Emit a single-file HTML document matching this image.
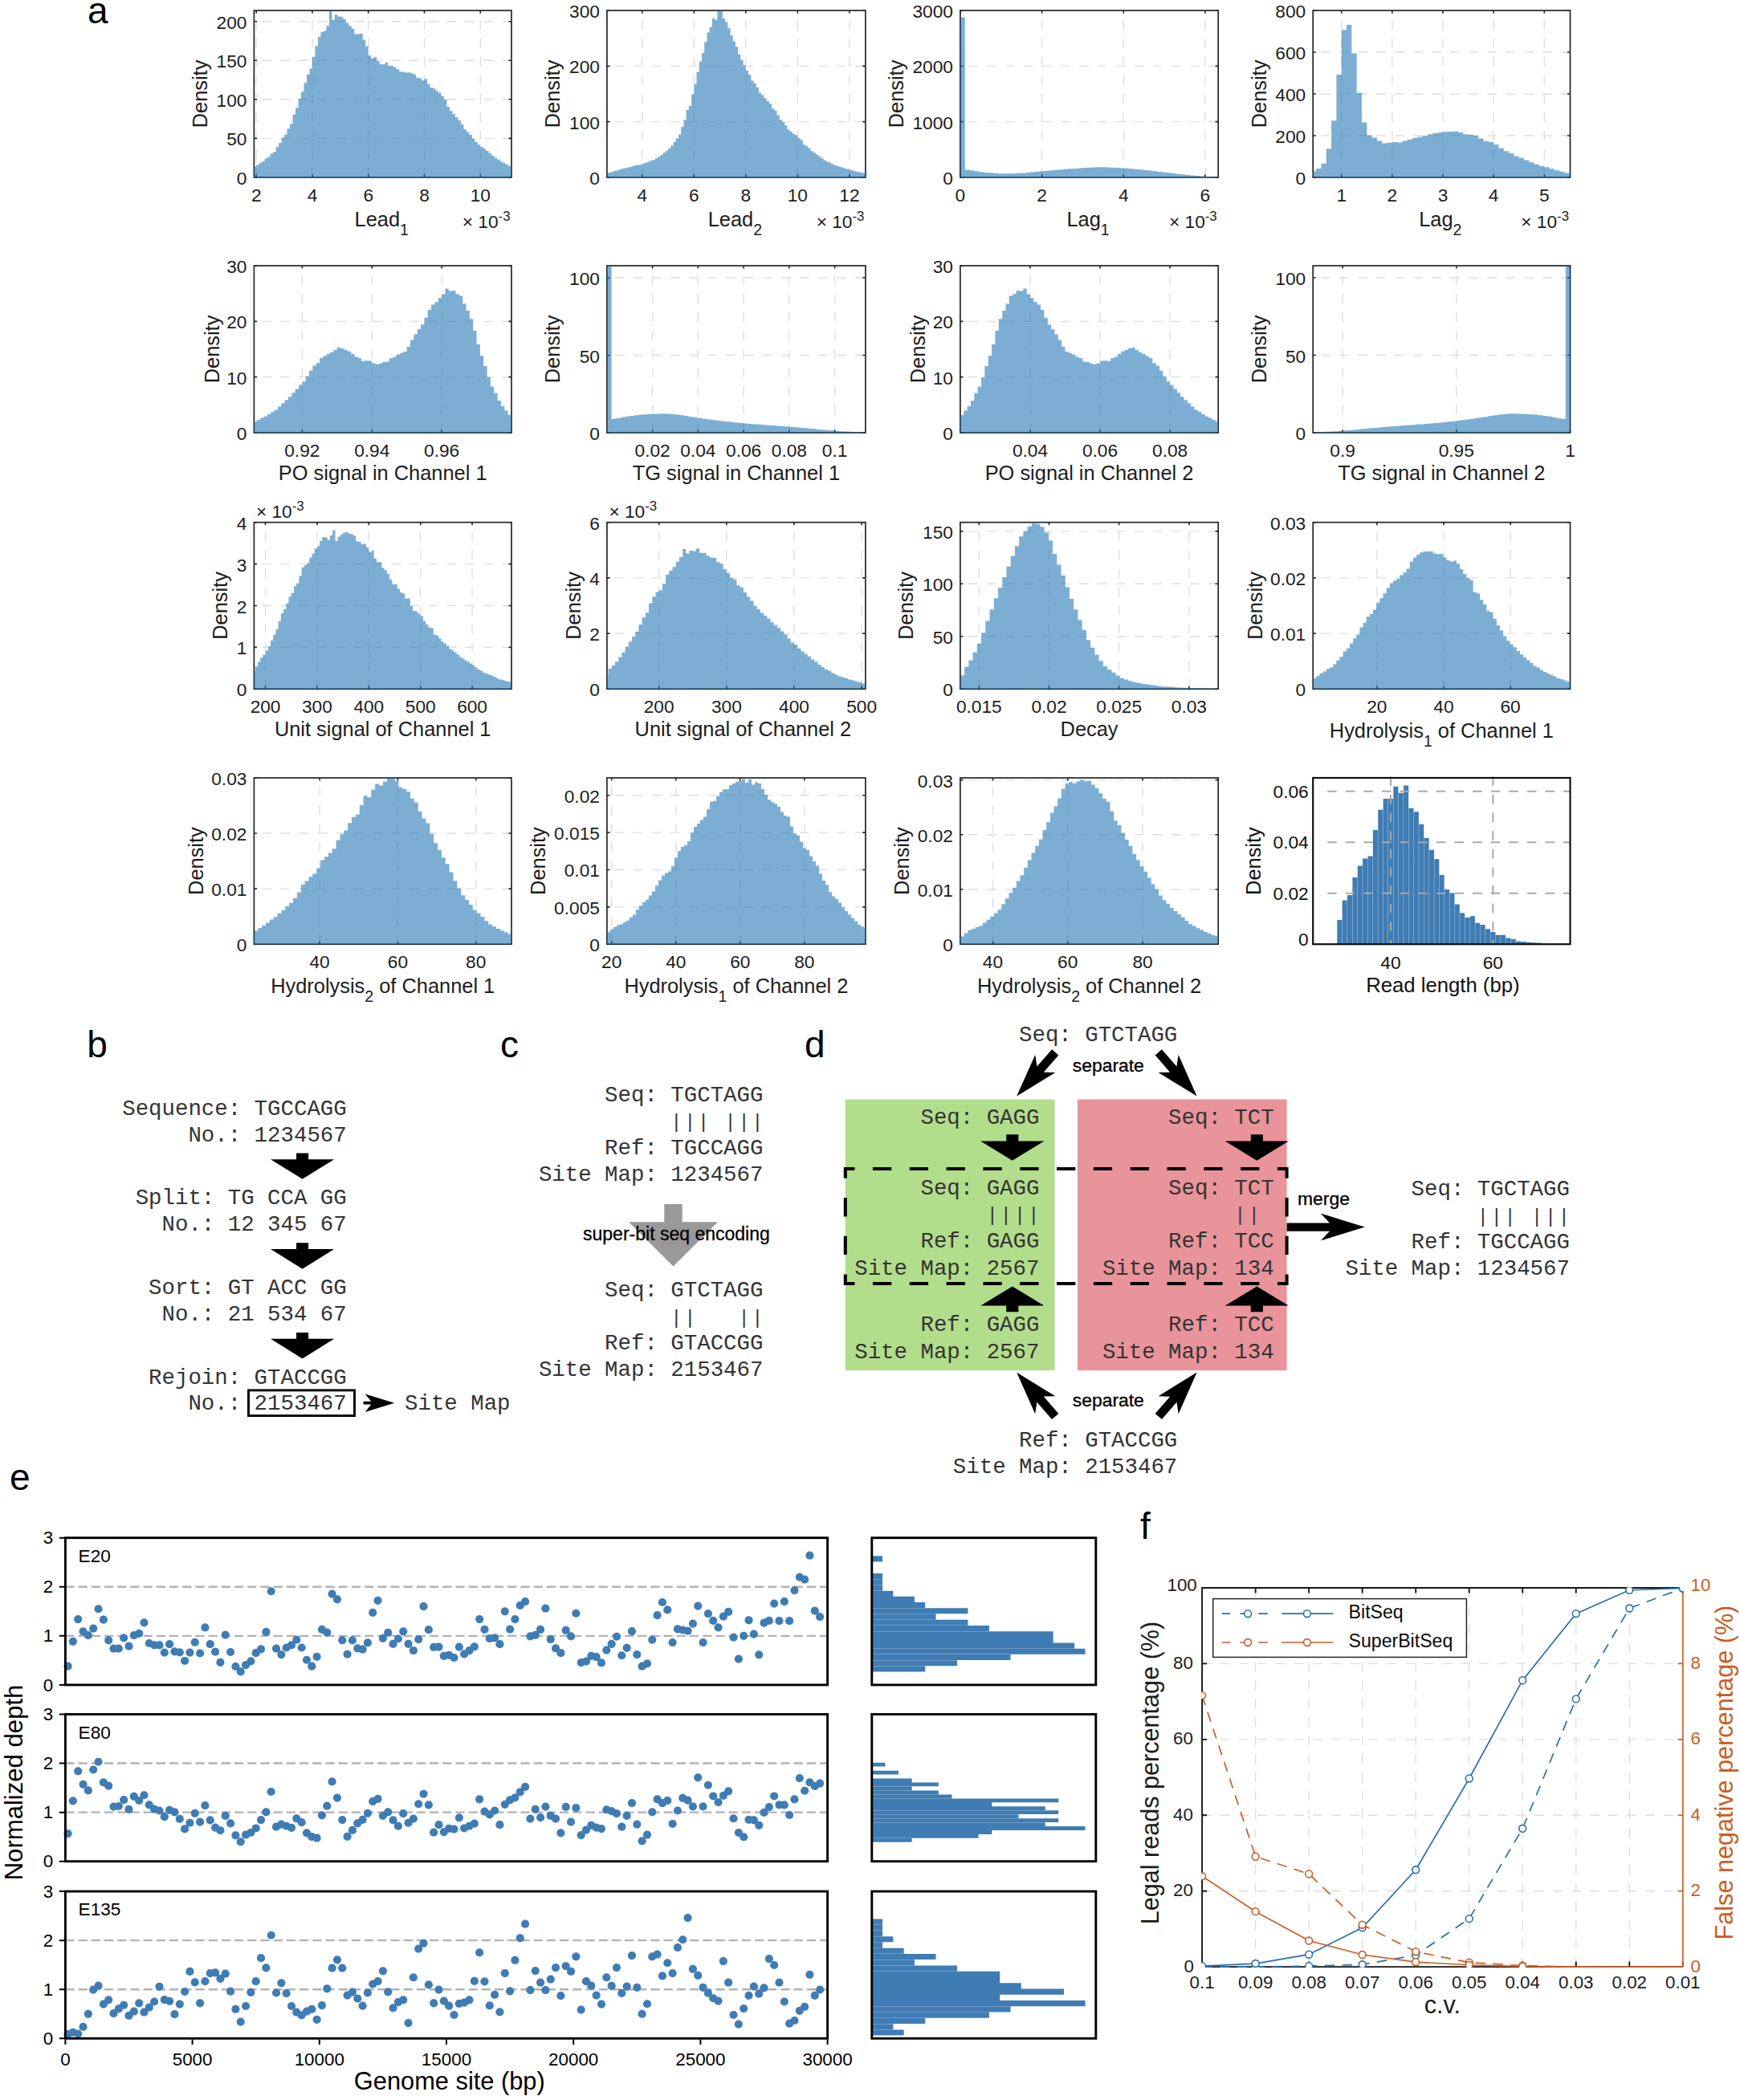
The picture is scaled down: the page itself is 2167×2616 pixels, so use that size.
<!DOCTYPE html>
<html lang="en"><head><meta charset="utf-8"><title>Figure</title>
<style>html,body{margin:0;padding:0;background:#fff}svg{display:block}</style></head>
<body>
<svg width="2167" height="2616" viewBox="0 0 2167 2616" font-family='"Liberation Sans", Arial, Helvetica, sans-serif'>
<rect width="2167" height="2616" fill="#fff"/>
<g>
<path d="M319.19 220.9V13.1M388.96 220.9V13.1M458.73 220.9V13.1M528.51 220.9V13.1M598.28 220.9V13.1M326.4 172.35H637M326.4 123.8H637M326.4 75.25H637M326.4 26.69H637" stroke="#dedede" stroke-width="1.4" stroke-dasharray="11.8 11.2" fill="none"/>
<path d="M319.19 220.9v-3.6M319.19 13.1v3.6M388.96 220.9v-3.6M388.96 13.1v3.6M458.73 220.9v-3.6M458.73 13.1v3.6M528.51 220.9v-3.6M528.51 13.1v3.6M598.28 220.9v-3.6M598.28 13.1v3.6M316.4 220.9h3.6M637 220.9h-3.6M316.4 172.35h3.6M637 172.35h-3.6M316.4 123.8h3.6M637 123.8h-3.6M316.4 75.25h3.6M637 75.25h-3.6M316.4 26.69h3.6M637 26.69h-3.6" stroke="#262626" stroke-width="1.6" fill="none"/>
<rect x="316.4" y="13.1" width="320.6" height="207.8" fill="none" stroke="#262626" stroke-width="1.7"/>
<path d="M316.4 220.9V207.21H319.19V205.38H322.68V203.11H326.17V200.99H329.66V197.58H333.15V195.55H336.63V191.24H340.12V189.15H343.61V183.21H347.1V177.98H350.59V171.5H354.08V167.68H357.57V160.35H361.05V154.21H364.54V142.47H368.03V134.3H371.52V123.03H375.01V114.25H378.5V103.35H381.99V92.76H385.47V85.27H388.96V70.86H392.45V57.35H395.94V46H399.43V40.06H402.92V38.46H406.41V32.31H409.89V13.1H413.38V24.58H416.87V18.13H420.36V20.48H423.85V20.97H427.34V23.82H430.83V28.52H434.31V32.59H437.8V35.95H441.29V42.56H444.78V42.35H448.27V42.08H451.76V49.65H455.25V57.85H458.73V68.92H462.22V72.8H465.71V71.04H469.2V76.37H472.69V79.97H476.18V80.2H479.67V77.83H483.15V81.98H486.64V81.99H490.13V83.82H493.62V86.34H497.11V89.21H500.6V89.55H504.09V90.62H507.57V90.36H511.06V90.94H514.55V92.76H518.04V96.67H521.53V97.46H525.02V100.26H528.51V98.22H531.99V104.51H535.48V109.05H538.97V110.27H542.46V113.28H545.95V115.47H549.44V119.73H552.93V123.78H556.41V133.02H559.9V138.24H563.39V142.02H566.88V145.92H570.37V149.86H573.86V154.88H577.35V161.15H580.83V164.4H584.32V168.08H587.81V172.82H591.3V176.91H594.79V180.35H598.28V182.93H601.77V185.35H605.25V188.11H608.74V191.12H612.23V194.06H615.72V196.75H619.21V198.8H622.7V201.22H626.19V202.99H629.67V204.94H633.16V207.08H636.65V208.61H637V220.9Z" fill="#156eb2" fill-opacity="0.56"/>
<text x="319.19" y="250.9" font-size="22.7" text-anchor="middle" fill="#1c1c1c">2</text>
<text x="388.96" y="250.9" font-size="22.7" text-anchor="middle" fill="#1c1c1c">4</text>
<text x="458.73" y="250.9" font-size="22.7" text-anchor="middle" fill="#1c1c1c">6</text>
<text x="528.51" y="250.9" font-size="22.7" text-anchor="middle" fill="#1c1c1c">8</text>
<text x="598.28" y="250.9" font-size="22.7" text-anchor="middle" fill="#1c1c1c">10</text>
<text x="307.4" y="229.9" font-size="22.7" text-anchor="end" fill="#1c1c1c">0</text>
<text x="307.4" y="181.35" font-size="22.7" text-anchor="end" fill="#1c1c1c">50</text>
<text x="307.4" y="132.8" font-size="22.7" text-anchor="end" fill="#1c1c1c">100</text>
<text x="307.4" y="84.25" font-size="22.7" text-anchor="end" fill="#1c1c1c">150</text>
<text x="307.4" y="35.69" font-size="22.7" text-anchor="end" fill="#1c1c1c">200</text>
<text transform="translate(258.3 117) rotate(-90)" font-size="25.4" text-anchor="middle" fill="#1c1c1c">Density</text>
<text x="475.2" y="281.8" font-size="25.4" text-anchor="middle" fill="#1c1c1c">Lead<tspan dy="11.5" font-size="19.5">1</tspan></text>
<text x="635.5" y="284.4" font-size="22.7" text-anchor="end" fill="#1c1c1c">× 10<tspan dy="-9.5" font-size="16.8">-3</tspan></text>
</g>
<g>
<path d="M799.78 220.9V13.1M864.31 220.9V13.1M928.84 220.9V13.1M993.37 220.9V13.1M1057.9 220.9V13.1M765.9 151.63H1077.9M765.9 82.37H1077.9" stroke="#dedede" stroke-width="1.4" stroke-dasharray="11.8 11.2" fill="none"/>
<path d="M799.78 220.9v-3.6M799.78 13.1v3.6M864.31 220.9v-3.6M864.31 13.1v3.6M928.84 220.9v-3.6M928.84 13.1v3.6M993.37 220.9v-3.6M993.37 13.1v3.6M1057.9 220.9v-3.6M1057.9 13.1v3.6M755.9 220.9h3.6M1077.9 220.9h-3.6M755.9 151.63h3.6M1077.9 151.63h-3.6M755.9 82.37h3.6M1077.9 82.37h-3.6M755.9 13.1h3.6M1077.9 13.1h-3.6" stroke="#262626" stroke-width="1.6" fill="none"/>
<rect x="755.9" y="13.1" width="322" height="207.8" fill="none" stroke="#262626" stroke-width="1.7"/>
<path d="M755.9 220.9V215.79H757.84V214.84H761.06V214.06H764.29V212.76H767.52V212.15H770.74V211.09H773.97V210.06H777.19V209.51H780.42V208.72H783.65V207.93H786.87V206.91H790.1V205.82H793.33V205.44H796.55V204.88H799.78V203.59H803.01V202.68H806.23V201.39H809.46V199.94H812.69V199.28H815.91V197.22H819.14V195.33H822.36V192.94H825.59V190.31H828.82V187.98H832.04V184.92H835.27V181.49H838.5V176.95H841.72V172.55H844.95V167.61H848.18V157.98H851.4V149.28H854.63V137.08H857.86V132.04H861.08V117.43H864.31V104.77H867.54V89.76H870.76V76.82H873.99V66.07H877.21V52.29H880.44V40.41H883.67V33.82H886.89V22.83H890.12V24.81H893.35V13.52H896.57V13.1H899.8V22.91H903.03V27.31H906.25V34.91H909.48V43.97H912.71V51.25H915.93V58.27H919.16V67.83H922.38V74.72H925.61V81.36H928.84V87.73H932.06V92.94H935.29V100.56H938.52V103.69H941.74V108.83H944.97V115.85H948.2V118.3H951.42V122.27H954.65V125.9H957.88V129.18H961.1V135.36H964.33V137.76H967.56V143.42H970.78V149.02H974.01V151.98H977.23V156.18H980.46V161.54H983.69V164.07H986.91V166.69H990.14V168.19H993.37V171.91H996.59V174.24H999.82V180.29H1003.05V181.92H1006.27V184.38H1009.5V188.32H1012.73V190.15H1015.95V192.58H1019.18V194.77H1022.41V197.15H1025.63V199.64H1028.86V201.48H1032.08V202.46H1035.31V204.13H1038.54V205.95H1041.76V206.83H1044.99V207.86H1048.22V208.86H1051.44V209.94H1054.67V210.83H1057.9V212.04H1061.12V212.55H1064.35V213.42H1067.58V214.28H1070.8V214.81H1074.03V215.51H1077.25V215.75H1077.9V220.9Z" fill="#156eb2" fill-opacity="0.56"/>
<text x="799.78" y="250.9" font-size="22.7" text-anchor="middle" fill="#1c1c1c">4</text>
<text x="864.31" y="250.9" font-size="22.7" text-anchor="middle" fill="#1c1c1c">6</text>
<text x="928.84" y="250.9" font-size="22.7" text-anchor="middle" fill="#1c1c1c">8</text>
<text x="993.37" y="250.9" font-size="22.7" text-anchor="middle" fill="#1c1c1c">10</text>
<text x="1057.9" y="250.9" font-size="22.7" text-anchor="middle" fill="#1c1c1c">12</text>
<text x="746.9" y="229.9" font-size="22.7" text-anchor="end" fill="#1c1c1c">0</text>
<text x="746.9" y="160.63" font-size="22.7" text-anchor="end" fill="#1c1c1c">100</text>
<text x="746.9" y="91.37" font-size="22.7" text-anchor="end" fill="#1c1c1c">200</text>
<text x="746.9" y="22.1" font-size="22.7" text-anchor="end" fill="#1c1c1c">300</text>
<text transform="translate(697.1 117) rotate(-90)" font-size="25.4" text-anchor="middle" fill="#1c1c1c">Density</text>
<text x="915.4" y="281.8" font-size="25.4" text-anchor="middle" fill="#1c1c1c">Lead<tspan dy="11.5" font-size="19.5">2</tspan></text>
<text x="1076.4" y="284.4" font-size="22.7" text-anchor="end" fill="#1c1c1c">× 10<tspan dy="-9.5" font-size="16.8">-3</tspan></text>
</g>
<g>
<path d="M1297.58 220.9V13.1M1399.25 220.9V13.1M1500.93 220.9V13.1M1205.9 151.63H1517.2M1205.9 82.37H1517.2" stroke="#dedede" stroke-width="1.4" stroke-dasharray="11.8 11.2" fill="none"/>
<path d="M1195.9 220.9v-3.6M1195.9 13.1v3.6M1297.58 220.9v-3.6M1297.58 13.1v3.6M1399.25 220.9v-3.6M1399.25 13.1v3.6M1500.93 220.9v-3.6M1500.93 13.1v3.6M1195.9 220.9h3.6M1517.2 220.9h-3.6M1195.9 151.63h3.6M1517.2 151.63h-3.6M1195.9 82.37h3.6M1517.2 82.37h-3.6M1195.9 13.1h3.6M1517.2 13.1h-3.6" stroke="#262626" stroke-width="1.6" fill="none"/>
<rect x="1195.9" y="13.1" width="321.3" height="207.8" fill="none" stroke="#262626" stroke-width="1.7"/>
<path d="M1195.9 220.9V21.41H1201.75V211.39H1207.59V212.36H1213.44V213.34H1219.29V214.31H1225.13V214.93H1230.98V215.36H1236.83V215.78H1242.67V216.2H1248.52V216.31H1254.36V216.14H1260.21V215.97H1266.06V215.8H1271.9V215.45H1277.75V214.89H1283.6V214.34H1289.44V213.78H1295.29V213.23H1301.14V212.75H1306.98V212.27H1312.83V211.79H1318.68V211.32H1324.52V210.84H1330.37V210.36H1336.21V209.88H1342.06V209.41H1347.91V209.01H1353.75V208.73H1359.6V208.45H1365.45V208.17H1371.29V208.34H1377.14V208.54H1382.99V208.74H1388.83V209.02H1394.68V209.4H1400.53V209.78H1406.37V210.16H1412.22V210.75H1418.06V211.35H1423.91V211.94H1429.76V212.59H1435.6V213.29H1441.45V213.98H1447.3V214.68H1453.14V215.34H1458.99V216.01H1464.84V216.67H1470.68V217.34H1476.53V218H1482.38V218.53H1488.22V219.03H1494.07V219.53H1499.91V219.93H1505.76V220.15H1511.61V220.37H1517.2V220.9Z" fill="#156eb2" fill-opacity="0.56"/>
<text x="1195.9" y="250.9" font-size="22.7" text-anchor="middle" fill="#1c1c1c">0</text>
<text x="1297.58" y="250.9" font-size="22.7" text-anchor="middle" fill="#1c1c1c">2</text>
<text x="1399.25" y="250.9" font-size="22.7" text-anchor="middle" fill="#1c1c1c">4</text>
<text x="1500.93" y="250.9" font-size="22.7" text-anchor="middle" fill="#1c1c1c">6</text>
<text x="1186.9" y="229.9" font-size="22.7" text-anchor="end" fill="#1c1c1c">0</text>
<text x="1186.9" y="160.63" font-size="22.7" text-anchor="end" fill="#1c1c1c">1000</text>
<text x="1186.9" y="91.37" font-size="22.7" text-anchor="end" fill="#1c1c1c">2000</text>
<text x="1186.9" y="22.1" font-size="22.7" text-anchor="end" fill="#1c1c1c">3000</text>
<text transform="translate(1124.7 117) rotate(-90)" font-size="25.4" text-anchor="middle" fill="#1c1c1c">Density</text>
<text x="1355.05" y="281.8" font-size="25.4" text-anchor="middle" fill="#1c1c1c">Lag<tspan dy="11.5" font-size="19.5">1</tspan></text>
<text x="1515.7" y="284.4" font-size="22.7" text-anchor="end" fill="#1c1c1c">× 10<tspan dy="-9.5" font-size="16.8">-3</tspan></text>
</g>
<g>
<path d="M1670.69 220.9V13.1M1733.84 220.9V13.1M1796.99 220.9V13.1M1860.14 220.9V13.1M1923.29 220.9V13.1M1645.2 168.95H1955.5M1645.2 117H1955.5M1645.2 65.05H1955.5" stroke="#dedede" stroke-width="1.4" stroke-dasharray="11.8 11.2" fill="none"/>
<path d="M1670.69 220.9v-3.6M1670.69 13.1v3.6M1733.84 220.9v-3.6M1733.84 13.1v3.6M1796.99 220.9v-3.6M1796.99 13.1v3.6M1860.14 220.9v-3.6M1860.14 13.1v3.6M1923.29 220.9v-3.6M1923.29 13.1v3.6M1635.2 220.9h3.6M1955.5 220.9h-3.6M1635.2 168.95h3.6M1955.5 168.95h-3.6M1635.2 117h3.6M1955.5 117h-3.6M1635.2 65.05h3.6M1955.5 65.05h-3.6M1635.2 13.1h3.6M1955.5 13.1h-3.6" stroke="#262626" stroke-width="1.6" fill="none"/>
<rect x="1635.2" y="13.1" width="320.3" height="207.8" fill="none" stroke="#262626" stroke-width="1.7"/>
<path d="M1635.2 220.9V213.37H1639.12V209.99H1645.43V203.76H1651.75V185.31H1658.06V150.25H1664.38V93.1H1670.69V37.26H1677.01V31.02H1683.32V66.61H1689.64V115.7H1695.95V152.59H1702.27V168.17H1708.58V171.55H1714.9V175.44H1721.21V178.56H1727.53V177.78H1733.84V177H1740.16V177.52H1746.47V175.44H1752.79V173.63H1759.1V171.81H1765.42V170.51H1771.73V168.95H1778.05V167.13H1784.36V166.09H1790.68V165.05H1796.99V164.27H1803.31V164.01H1809.62V163.75H1815.94V164.79H1822.25V167.13H1828.57V167.65H1834.88V168.95H1841.2V172.59H1847.51V175.96H1853.83V177H1860.14V180.12H1866.46V184.53H1872.77V188.17H1879.09V190.77H1885.4V194.41H1891.72V196.74H1898.03V199.6H1904.35V202.2H1910.66V204.8H1916.98V206.87H1923.29V208.17H1929.61V210.25H1935.92V212.33H1942.24V213.63H1948.55V215.45H1954.87V216.48H1955.5V220.9Z" fill="#156eb2" fill-opacity="0.56"/>
<text x="1670.69" y="250.9" font-size="22.7" text-anchor="middle" fill="#1c1c1c">1</text>
<text x="1733.84" y="250.9" font-size="22.7" text-anchor="middle" fill="#1c1c1c">2</text>
<text x="1796.99" y="250.9" font-size="22.7" text-anchor="middle" fill="#1c1c1c">3</text>
<text x="1860.14" y="250.9" font-size="22.7" text-anchor="middle" fill="#1c1c1c">4</text>
<text x="1923.29" y="250.9" font-size="22.7" text-anchor="middle" fill="#1c1c1c">5</text>
<text x="1626.2" y="229.9" font-size="22.7" text-anchor="end" fill="#1c1c1c">0</text>
<text x="1626.2" y="177.95" font-size="22.7" text-anchor="end" fill="#1c1c1c">200</text>
<text x="1626.2" y="126" font-size="22.7" text-anchor="end" fill="#1c1c1c">400</text>
<text x="1626.2" y="74.05" font-size="22.7" text-anchor="end" fill="#1c1c1c">600</text>
<text x="1626.2" y="22.1" font-size="22.7" text-anchor="end" fill="#1c1c1c">800</text>
<text transform="translate(1577.1 117) rotate(-90)" font-size="25.4" text-anchor="middle" fill="#1c1c1c">Density</text>
<text x="1793.85" y="281.8" font-size="25.4" text-anchor="middle" fill="#1c1c1c">Lag<tspan dy="11.5" font-size="19.5">2</tspan></text>
<text x="1954" y="284.4" font-size="22.7" text-anchor="end" fill="#1c1c1c">× 10<tspan dy="-9.5" font-size="16.8">-3</tspan></text>
</g>
<g>
<path d="M376.35 539V331M463.23 539V331M550.12 539V331M326.4 469.67H637M326.4 400.33H637" stroke="#dedede" stroke-width="1.4" stroke-dasharray="11.8 11.2" fill="none"/>
<path d="M376.35 539v-3.6M376.35 331v3.6M463.23 539v-3.6M463.23 331v3.6M550.12 539v-3.6M550.12 331v3.6M316.4 539h3.6M637 539h-3.6M316.4 469.67h3.6M637 469.67h-3.6M316.4 400.33h3.6M637 400.33h-3.6M316.4 331h3.6M637 331h-3.6" stroke="#262626" stroke-width="1.6" fill="none"/>
<rect x="316.4" y="331" width="320.6" height="208" fill="none" stroke="#262626" stroke-width="1.7"/>
<path d="M316.4 539V525.13H319.88V523.05H324.22V520.49H328.56V518.67H332.91V515.92H337.25V512.93H341.6V510.78H345.94V506.61H350.28V502.28H354.63V498.33H358.97V494.13H363.32V489.16H367.66V484.57H372.01V479.38H376.35V475.18H380.69V468.77H385.04V461.82H389.38V455.57H393.73V452.23H398.07V445.92H402.41V443.55H406.76V441.05H411.1V438.71H415.45V436.04H419.79V432.87H424.14V434.11H428.48V435.64H432.82V437.72H437.17V440.89H441.51V444.44H445.86V446.29H450.2V449.74H454.54V449.22H458.89V449.49H463.23V452.58H467.58V453.81H471.92V452.76H476.27V450.88H480.61V450.4H484.95V446.16H489.3V444.51H493.64V441.61H497.99V439.65H502.33V437.94H506.67V431.88H511.02V423.42H515.36V416.56H519.71V410.23H524.05V404.16H528.4V395.81H532.74V385.88H537.08V379.51H541.43V376.27H545.77V371.31H550.12V366.61H554.46V359.43H558.8V362.49H563.15V361.97H567.49V366.15H571.84V368.62H576.18V378.36H580.53V387.03H584.87V397.14H589.21V412.1H593.56V428.96H597.9V443.31H602.25V456.06H606.59V469.88H610.93V481.66H615.28V489.87H619.62V498.95H623.97V505.91H628.31V511.39H632.66V517.06H637V539Z" fill="#156eb2" fill-opacity="0.56"/>
<text x="376.35" y="569" font-size="22.7" text-anchor="middle" fill="#1c1c1c">0.92</text>
<text x="463.23" y="569" font-size="22.7" text-anchor="middle" fill="#1c1c1c">0.94</text>
<text x="550.12" y="569" font-size="22.7" text-anchor="middle" fill="#1c1c1c">0.96</text>
<text x="307.4" y="548" font-size="22.7" text-anchor="end" fill="#1c1c1c">0</text>
<text x="307.4" y="478.67" font-size="22.7" text-anchor="end" fill="#1c1c1c">10</text>
<text x="307.4" y="409.33" font-size="22.7" text-anchor="end" fill="#1c1c1c">20</text>
<text x="307.4" y="340" font-size="22.7" text-anchor="end" fill="#1c1c1c">30</text>
<text transform="translate(272.6 435) rotate(-90)" font-size="25.4" text-anchor="middle" fill="#1c1c1c">Density</text>
<text x="476.7" y="598" font-size="25.4" text-anchor="middle" fill="#1c1c1c">PO signal in Channel 1</text>
</g>
<g>
<path d="M812.64 539V331M869.38 539V331M926.12 539V331M982.86 539V331M1039.6 539V331M765.9 442.53H1077.9M765.9 346.05H1077.9" stroke="#dedede" stroke-width="1.4" stroke-dasharray="11.8 11.2" fill="none"/>
<path d="M812.64 539v-3.6M812.64 331v3.6M869.38 539v-3.6M869.38 331v3.6M926.12 539v-3.6M926.12 331v3.6M982.86 539v-3.6M982.86 331v3.6M1039.6 539v-3.6M1039.6 331v3.6M755.9 539h3.6M1077.9 539h-3.6M755.9 442.53h3.6M1077.9 442.53h-3.6M755.9 346.05h3.6M1077.9 346.05h-3.6" stroke="#262626" stroke-width="1.6" fill="none"/>
<rect x="755.9" y="331" width="322" height="208" fill="none" stroke="#262626" stroke-width="1.7"/>
<path d="M755.9 539V331H761.57V522.03H767.25V520.94H772.92V519.86H778.6V518.82H784.27V518.06H789.94V517.3H795.62V516.59H801.29V516.29H806.97V515.99H812.64V515.74H818.31V515.54H823.99V515.34H829.66V515.56H835.34V516H841.01V516.44H846.68V517.2H852.36V518.16H858.03V519.13H863.71V520.09H869.38V520.93H875.05V521.76H880.73V522.59H886.4V523.37H892.08V524H897.75V524.64H903.42V525.27H909.1V525.87H914.77V526.45H920.45V527.03H926.12V527.62H931.79V528.02H937.47V528.43H943.14V528.84H948.82V529.25H954.49V529.66H960.16V530.07H965.84V530.48H971.51V530.88H977.19V531.33H982.86V531.81H988.53V532.28H994.21V532.76H999.88V533.24H1005.56V533.78H1011.23V534.36H1016.9V534.95H1022.58V535.53H1028.25V535.94H1033.93V536.34H1039.6V536.75H1045.27V537.16H1050.95V537.45H1056.62V537.7H1062.3V537.95H1067.97V538.2H1073.64V538.42H1077.9V539Z" fill="#156eb2" fill-opacity="0.56"/>
<text x="812.64" y="569" font-size="22.7" text-anchor="middle" fill="#1c1c1c">0.02</text>
<text x="869.38" y="569" font-size="22.7" text-anchor="middle" fill="#1c1c1c">0.04</text>
<text x="926.12" y="569" font-size="22.7" text-anchor="middle" fill="#1c1c1c">0.06</text>
<text x="982.86" y="569" font-size="22.7" text-anchor="middle" fill="#1c1c1c">0.08</text>
<text x="1039.6" y="569" font-size="22.7" text-anchor="middle" fill="#1c1c1c">0.1</text>
<text x="746.9" y="548" font-size="22.7" text-anchor="end" fill="#1c1c1c">0</text>
<text x="746.9" y="451.53" font-size="22.7" text-anchor="end" fill="#1c1c1c">50</text>
<text x="746.9" y="355.05" font-size="22.7" text-anchor="end" fill="#1c1c1c">100</text>
<text transform="translate(697.2 435) rotate(-90)" font-size="25.4" text-anchor="middle" fill="#1c1c1c">Density</text>
<text x="916.9" y="598" font-size="25.4" text-anchor="middle" fill="#1c1c1c">TG signal in Channel 1</text>
</g>
<g>
<path d="M1282.97 539V331M1370.05 539V331M1457.12 539V331M1205.9 469.67H1517.2M1205.9 400.33H1517.2" stroke="#dedede" stroke-width="1.4" stroke-dasharray="11.8 11.2" fill="none"/>
<path d="M1282.97 539v-3.6M1282.97 331v3.6M1370.05 539v-3.6M1370.05 331v3.6M1457.12 539v-3.6M1457.12 331v3.6M1195.9 539h3.6M1517.2 539h-3.6M1195.9 469.67h3.6M1517.2 469.67h-3.6M1195.9 400.33h3.6M1517.2 400.33h-3.6M1195.9 331h3.6M1517.2 331h-3.6" stroke="#262626" stroke-width="1.6" fill="none"/>
<rect x="1195.9" y="331" width="321.3" height="208" fill="none" stroke="#262626" stroke-width="1.7"/>
<path d="M1195.9 539V517.06H1200.25V511.39H1204.61V505.91H1208.96V498.95H1213.31V489.87H1217.67V481.66H1222.02V469.88H1226.38V456.06H1230.73V443.31H1235.08V428.96H1239.44V412.1H1243.79V397.14H1248.14V387.03H1252.5V378.36H1256.85V368.62H1261.2V366.15H1265.56V361.97H1269.91V362.49H1274.27V359.43H1278.62V366.61H1282.97V371.31H1287.33V376.27H1291.68V379.51H1296.03V385.88H1300.39V395.81H1304.74V404.16H1309.1V410.23H1313.45V416.56H1317.8V423.42H1322.16V431.88H1326.51V437.94H1330.86V439.65H1335.22V441.61H1339.57V444.51H1343.92V446.16H1348.28V450.4H1352.63V450.88H1356.99V452.76H1361.34V453.81H1365.69V452.58H1370.05V449.49H1374.4V449.22H1378.75V449.74H1383.11V446.29H1387.46V444.44H1391.81V440.89H1396.17V437.72H1400.52V435.64H1404.88V434.11H1409.23V432.87H1413.58V436.04H1417.94V438.71H1422.29V441.05H1426.64V443.55H1431V445.92H1435.35V452.23H1439.7V455.57H1444.06V461.82H1448.41V468.77H1452.77V475.18H1457.12V479.38H1461.47V484.57H1465.83V489.16H1470.18V494.13H1474.53V498.33H1478.89V502.28H1483.24V506.61H1487.6V510.78H1491.95V512.93H1496.3V515.92H1500.66V518.67H1505.01V520.49H1509.36V523.05H1513.72V525.13H1517.2V539Z" fill="#156eb2" fill-opacity="0.56"/>
<text x="1282.97" y="569" font-size="22.7" text-anchor="middle" fill="#1c1c1c">0.04</text>
<text x="1370.05" y="569" font-size="22.7" text-anchor="middle" fill="#1c1c1c">0.06</text>
<text x="1457.12" y="569" font-size="22.7" text-anchor="middle" fill="#1c1c1c">0.08</text>
<text x="1186.9" y="548" font-size="22.7" text-anchor="end" fill="#1c1c1c">0</text>
<text x="1186.9" y="478.67" font-size="22.7" text-anchor="end" fill="#1c1c1c">10</text>
<text x="1186.9" y="409.33" font-size="22.7" text-anchor="end" fill="#1c1c1c">20</text>
<text x="1186.9" y="340" font-size="22.7" text-anchor="end" fill="#1c1c1c">30</text>
<text transform="translate(1151.9 435) rotate(-90)" font-size="25.4" text-anchor="middle" fill="#1c1c1c">Density</text>
<text x="1356.55" y="598" font-size="25.4" text-anchor="middle" fill="#1c1c1c">PO signal in Channel 2</text>
</g>
<g>
<path d="M1672.05 539V331M1813.77 539V331M1645.2 442.53H1955.5M1645.2 346.05H1955.5" stroke="#dedede" stroke-width="1.4" stroke-dasharray="11.8 11.2" fill="none"/>
<path d="M1672.05 539v-3.6M1672.05 331v3.6M1813.77 539v-3.6M1813.77 331v3.6M1955.5 539v-3.6M1955.5 331v3.6M1635.2 539h3.6M1955.5 539h-3.6M1635.2 442.53h3.6M1955.5 442.53h-3.6M1635.2 346.05h3.6M1955.5 346.05h-3.6" stroke="#262626" stroke-width="1.6" fill="none"/>
<rect x="1635.2" y="331" width="320.3" height="208" fill="none" stroke="#262626" stroke-width="1.7"/>
<path d="M1635.2 539V538.42H1638.03V538.2H1643.7V537.95H1649.37V537.7H1655.04V537.45H1660.71V537.16H1666.38V536.75H1672.05V536.34H1677.72V535.94H1683.39V535.53H1689.06V534.95H1694.72V534.36H1700.39V533.78H1706.06V533.24H1711.73V532.76H1717.4V532.28H1723.07V531.81H1728.74V531.33H1734.41V530.88H1740.08V530.48H1745.75V530.07H1751.42V529.66H1757.08V529.25H1762.75V528.84H1768.42V528.43H1774.09V528.02H1779.76V527.62H1785.43V527.03H1791.1V526.45H1796.77V525.87H1802.44V525.27H1808.11V524.64H1813.77V524H1819.44V523.37H1825.11V522.59H1830.78V521.76H1836.45V520.93H1842.12V520.09H1847.79V519.13H1853.46V518.16H1859.13V517.2H1864.8V516.44H1870.46V516H1876.13V515.56H1881.8V515.34H1887.47V515.54H1893.14V515.74H1898.81V515.99H1904.48V516.29H1910.15V516.59H1915.82V517.3H1921.49V518.06H1927.15V518.82H1932.82V519.86H1938.49V520.94H1944.16V522.03H1949.83V331H1955.5V539Z" fill="#156eb2" fill-opacity="0.56"/>
<text x="1672.05" y="569" font-size="22.7" text-anchor="middle" fill="#1c1c1c">0.9</text>
<text x="1813.77" y="569" font-size="22.7" text-anchor="middle" fill="#1c1c1c">0.95</text>
<text x="1955.5" y="569" font-size="22.7" text-anchor="middle" fill="#1c1c1c">1</text>
<text x="1626.2" y="548" font-size="22.7" text-anchor="end" fill="#1c1c1c">0</text>
<text x="1626.2" y="451.53" font-size="22.7" text-anchor="end" fill="#1c1c1c">50</text>
<text x="1626.2" y="355.05" font-size="22.7" text-anchor="end" fill="#1c1c1c">100</text>
<text transform="translate(1577.1 435) rotate(-90)" font-size="25.4" text-anchor="middle" fill="#1c1c1c">Density</text>
<text x="1795.35" y="598" font-size="25.4" text-anchor="middle" fill="#1c1c1c">TG signal in Channel 2</text>
</g>
<g>
<path d="M330.56 858.3V650.7M394.94 858.3V650.7M459.32 858.3V650.7M523.7 858.3V650.7M588.07 858.3V650.7M326.4 806.4H637M326.4 754.5H637M326.4 702.6H637" stroke="#dedede" stroke-width="1.4" stroke-dasharray="11.8 11.2" fill="none"/>
<path d="M330.56 858.3v-3.6M330.56 650.7v3.6M394.94 858.3v-3.6M394.94 650.7v3.6M459.32 858.3v-3.6M459.32 650.7v3.6M523.7 858.3v-3.6M523.7 650.7v3.6M588.07 858.3v-3.6M588.07 650.7v3.6M316.4 858.3h3.6M637 858.3h-3.6M316.4 806.4h3.6M637 806.4h-3.6M316.4 754.5h3.6M637 754.5h-3.6M316.4 702.6h3.6M637 702.6h-3.6M316.4 650.7h3.6M637 650.7h-3.6" stroke="#262626" stroke-width="1.6" fill="none"/>
<rect x="316.4" y="650.7" width="320.6" height="207.6" fill="none" stroke="#262626" stroke-width="1.7"/>
<path d="M316.4 858.3V836.24H317.69V830.36H320.91V824.42H324.13V819.17H327.34V815.38H330.56V810.49H333.78V805.34H337V798.09H340.22V790.82H343.44V783.77H346.66V773.85H349.88V764.04H353.1V759.08H356.31V751.66H359.53V743.15H362.75V738.71H365.97V730.13H369.19V726.69H372.41V717.31H375.63V706.76H378.85V704.03H382.07V701.41H385.28V694.41H388.5V689.61H391.72V683.26H394.94V680.3H398.16V673.87H401.38V668.88H404.6V669.52H407.82V672.4H411.03V667.01H414.25V660.21H417.47V673.95H420.69V668.52H423.91V665.86H427.13V663.71H430.35V662.39H433.57V664.44H436.79V665.56H440V667.23H443.22V674.53H446.44V674.91H449.66V677.97H452.88V677.49H456.1V681.7H459.32V687.87H462.54V686H465.76V695.71H468.97V700.2H472.19V700.21H475.41V707.85H478.63V710.35H481.85V715.1H485.07V721.93H488.29V727.72H491.51V727.65H494.73V733.57H497.94V738.06H501.16V739.4H504.38V745.83H507.6V745.58H510.82V755.08H514.04V760.91H517.26V761.64H520.48V764.82H523.7V767.24H526.91V773.86H530.13V777.63H533.35V781.28H536.57V782.51H539.79V790.45H543.01V791.62H546.23V795.2H549.45V799.21H552.67V801.79H555.88V804.48H559.1V808.26H562.32V810.44H565.54V812.78H568.76V815.51H571.98V818.52H575.2V820.51H578.42V822.45H581.64V824.26H584.85V826.86H588.07V828.71H591.29V831.24H594.51V834.08H597.73V835.32H600.95V837.86H604.17V838.82H607.39V840.27H610.61V841.35H613.82V843H617.04V844.44H620.26V846.21H623.48V846.72H626.7V847.75H629.92V848.63H633.14V849.23H636.36V850.08H637V858.3Z" fill="#156eb2" fill-opacity="0.56"/>
<text x="330.56" y="888.3" font-size="22.7" text-anchor="middle" fill="#1c1c1c">200</text>
<text x="394.94" y="888.3" font-size="22.7" text-anchor="middle" fill="#1c1c1c">300</text>
<text x="459.32" y="888.3" font-size="22.7" text-anchor="middle" fill="#1c1c1c">400</text>
<text x="523.7" y="888.3" font-size="22.7" text-anchor="middle" fill="#1c1c1c">500</text>
<text x="588.07" y="888.3" font-size="22.7" text-anchor="middle" fill="#1c1c1c">600</text>
<text x="307.4" y="867.3" font-size="22.7" text-anchor="end" fill="#1c1c1c">0</text>
<text x="307.4" y="815.4" font-size="22.7" text-anchor="end" fill="#1c1c1c">1</text>
<text x="307.4" y="763.5" font-size="22.7" text-anchor="end" fill="#1c1c1c">2</text>
<text x="307.4" y="711.6" font-size="22.7" text-anchor="end" fill="#1c1c1c">3</text>
<text x="307.4" y="659.7" font-size="22.7" text-anchor="end" fill="#1c1c1c">4</text>
<text transform="translate(283.2 754.5) rotate(-90)" font-size="25.4" text-anchor="middle" fill="#1c1c1c">Density</text>
<text x="476.7" y="917.3" font-size="25.4" text-anchor="middle" fill="#1c1c1c">Unit signal of Channel 1</text>
<text x="318.9" y="645.2" font-size="22.7" text-anchor="start" fill="#1c1c1c">× 10<tspan dy="-9.5" font-size="16.8">-3</tspan></text>
</g>
<g>
<path d="M820.69 858.3V650.7M904.83 858.3V650.7M988.97 858.3V650.7M1073.1 858.3V650.7M765.9 789.1H1077.9M765.9 719.9H1077.9" stroke="#dedede" stroke-width="1.4" stroke-dasharray="11.8 11.2" fill="none"/>
<path d="M820.69 858.3v-3.6M820.69 650.7v3.6M904.83 858.3v-3.6M904.83 650.7v3.6M988.97 858.3v-3.6M988.97 650.7v3.6M1073.1 858.3v-3.6M1073.1 650.7v3.6M755.9 858.3h3.6M1077.9 858.3h-3.6M755.9 789.1h3.6M1077.9 789.1h-3.6M755.9 719.9h3.6M1077.9 719.9h-3.6M755.9 650.7h3.6M1077.9 650.7h-3.6" stroke="#262626" stroke-width="1.6" fill="none"/>
<rect x="755.9" y="650.7" width="322" height="207.6" fill="none" stroke="#262626" stroke-width="1.7"/>
<path d="M755.9 858.3V841.02H757.58V833H761.79V829.01H766V824.14H770.2V818.43H774.41V812.64H778.62V805.6H782.82V799.35H787.03V793.08H791.24V786.72H795.45V778.12H799.65V769.24H803.86V763.23H808.07V751.58H812.27V743.34H816.48V737.78H820.69V735.33H824.89V727.3H829.1V715.79H833.31V710.99H837.51V706.23H841.72V699.69H845.93V693.91H850.14V683.92H854.34V689.42H858.55V685.8H862.76V686.39H866.96V683.35H871.17V688.67H875.38V688.73H879.58V692.24H883.79V694.52H888V694.9H892.21V700.22H896.41V702.09H900.62V709.26H904.83V713.82H909.03V719.97H913.24V721.76H917.45V729.26H921.65V731.68H925.86V737.97H930.07V743.57H934.27V748.57H938.48V754.7H942.69V758.99H946.9V763.45H951.1V767H955.31V770.61H959.52V775.21H963.72V778.82H967.93V782.13H972.14V786.61H976.34V790.62H980.55V795.61H984.76V800.4H988.97V802.99H993.17V807.87H997.38V811.36H1001.59V814.38H1005.79V817.69H1010V821.4H1014.21V824.2H1018.41V828.08H1022.62V831.02H1026.83V833.63H1031.03V835.58H1035.24V838.53H1039.45V840.43H1043.66V842.54H1047.86V843.84H1052.07V845.12H1056.28V846.52H1060.48V847.58H1064.69V848.86H1068.9V849.83H1073.1V851.39H1077.31V851.78H1077.9V858.3Z" fill="#156eb2" fill-opacity="0.56"/>
<text x="820.69" y="888.3" font-size="22.7" text-anchor="middle" fill="#1c1c1c">200</text>
<text x="904.83" y="888.3" font-size="22.7" text-anchor="middle" fill="#1c1c1c">300</text>
<text x="988.97" y="888.3" font-size="22.7" text-anchor="middle" fill="#1c1c1c">400</text>
<text x="1073.1" y="888.3" font-size="22.7" text-anchor="middle" fill="#1c1c1c">500</text>
<text x="746.9" y="867.3" font-size="22.7" text-anchor="end" fill="#1c1c1c">0</text>
<text x="746.9" y="798.1" font-size="22.7" text-anchor="end" fill="#1c1c1c">2</text>
<text x="746.9" y="728.9" font-size="22.7" text-anchor="end" fill="#1c1c1c">4</text>
<text x="746.9" y="659.7" font-size="22.7" text-anchor="end" fill="#1c1c1c">6</text>
<text transform="translate(722.7 754.5) rotate(-90)" font-size="25.4" text-anchor="middle" fill="#1c1c1c">Density</text>
<text x="925.4" y="917.3" font-size="25.4" text-anchor="middle" fill="#1c1c1c">Unit signal of Channel 2</text>
<text x="758.4" y="645.2" font-size="22.7" text-anchor="start" fill="#1c1c1c">× 10<tspan dy="-9.5" font-size="16.8">-3</tspan></text>
</g>
<g>
<path d="M1219.27 858.3V650.7M1306.49 858.3V650.7M1393.7 858.3V650.7M1480.92 858.3V650.7M1205.9 792.81H1517.2M1205.9 727.32H1517.2M1205.9 661.83H1517.2" stroke="#dedede" stroke-width="1.4" stroke-dasharray="11.8 11.2" fill="none"/>
<path d="M1219.27 858.3v-3.6M1219.27 650.7v3.6M1306.49 858.3v-3.6M1306.49 650.7v3.6M1393.7 858.3v-3.6M1393.7 650.7v3.6M1480.92 858.3v-3.6M1480.92 650.7v3.6M1195.9 858.3h3.6M1517.2 858.3h-3.6M1195.9 792.81h3.6M1517.2 792.81h-3.6M1195.9 727.32h3.6M1517.2 727.32h-3.6M1195.9 661.83h3.6M1517.2 661.83h-3.6" stroke="#262626" stroke-width="1.6" fill="none"/>
<rect x="1195.9" y="650.7" width="321.3" height="207.6" fill="none" stroke="#262626" stroke-width="1.7"/>
<path d="M1195.9 858.3V841.2H1201.13V831.1H1206.37V822.59H1211.6V812.5H1216.83V801.85H1222.06V788.13H1227.3V773.48H1232.53V759.36H1237.76V745.37H1243V732.12H1248.23V719.03H1253.46V705.74H1258.69V692.42H1263.93V680.26H1269.16V668.27H1274.39V661.77H1279.63V655.87H1284.86V652.11H1290.09V652.82H1295.33V656.36H1300.56V663.33H1305.79V673.39H1311.02V690.09H1316.26V703.52H1321.49V716.84H1326.72V731.5H1331.96V746.1H1337.19V759.19H1342.42V772.28H1347.65V784.93H1352.89V797.36H1358.12V806.69H1363.35V815.81H1368.59V823.14H1373.82V830.01H1379.05V833.94H1384.28V837.83H1389.52V841.49H1394.75V844.84H1399.98V846.58H1405.22V848.32H1410.45V849.66H1415.68V850.65H1420.91V851.65H1426.15V852.58H1431.38V853.34H1436.61V854.09H1441.85V854.84H1447.08V855.19H1452.31V855.51H1457.54V855.83H1462.78V856.15H1468.01V856.47H1473.24V856.79H1478.48V857.03H1483.71V857.12H1488.94V857.22H1494.18V857.32H1499.41V857.42H1504.64V857.52H1509.87V857.62H1515.11V857.69H1517.2V858.3Z" fill="#156eb2" fill-opacity="0.56"/>
<text x="1219.27" y="888.3" font-size="22.7" text-anchor="middle" fill="#1c1c1c">0.015</text>
<text x="1306.49" y="888.3" font-size="22.7" text-anchor="middle" fill="#1c1c1c">0.02</text>
<text x="1393.7" y="888.3" font-size="22.7" text-anchor="middle" fill="#1c1c1c">0.025</text>
<text x="1480.92" y="888.3" font-size="22.7" text-anchor="middle" fill="#1c1c1c">0.03</text>
<text x="1186.9" y="867.3" font-size="22.7" text-anchor="end" fill="#1c1c1c">0</text>
<text x="1186.9" y="801.81" font-size="22.7" text-anchor="end" fill="#1c1c1c">50</text>
<text x="1186.9" y="736.32" font-size="22.7" text-anchor="end" fill="#1c1c1c">100</text>
<text x="1186.9" y="670.83" font-size="22.7" text-anchor="end" fill="#1c1c1c">150</text>
<text transform="translate(1137.1 754.5) rotate(-90)" font-size="25.4" text-anchor="middle" fill="#1c1c1c">Density</text>
<text x="1356.55" y="917.3" font-size="25.4" text-anchor="middle" fill="#1c1c1c">Decay</text>
</g>
<g>
<path d="M1714.84 858.3V650.7M1797.97 858.3V650.7M1881.1 858.3V650.7M1645.2 789.1H1955.5M1645.2 719.9H1955.5" stroke="#dedede" stroke-width="1.4" stroke-dasharray="11.8 11.2" fill="none"/>
<path d="M1714.84 858.3v-3.6M1714.84 650.7v3.6M1797.97 858.3v-3.6M1797.97 650.7v3.6M1881.1 858.3v-3.6M1881.1 650.7v3.6M1635.2 858.3h3.6M1955.5 858.3h-3.6M1635.2 789.1h3.6M1955.5 789.1h-3.6M1635.2 719.9h3.6M1955.5 719.9h-3.6M1635.2 650.7h3.6M1955.5 650.7h-3.6" stroke="#262626" stroke-width="1.6" fill="none"/>
<rect x="1635.2" y="650.7" width="320.3" height="207.6" fill="none" stroke="#262626" stroke-width="1.7"/>
<path d="M1635.2 858.3V845.03H1639.36V842.03H1643.51V838.64H1647.67V836.39H1651.83V833.19H1655.98V831.4H1660.14V827.59H1664.3V822.82H1668.45V818.34H1672.61V811.54H1676.77V807.8H1680.92V801.45H1685.08V795.29H1689.23V790.52H1693.39V781.38H1697.55V775.8H1701.7V768.26H1705.86V764.8H1710.02V759.42H1714.17V750.78H1718.33V745.24H1722.49V739.31H1726.64V732.42H1730.8V726.59H1734.96V723.35H1739.11V721H1743.27V716.59H1747.43V713.27H1751.58V708.5H1755.74V699.56H1759.9V694.51H1764.05V691.1H1768.21V688.14H1772.36V686.93H1776.52V686.96H1780.68V686.77H1784.83V689.48H1788.99V690.27H1793.15V690.13H1797.3V694.24H1801.46V697.81H1805.62V699.55H1809.77V698.48H1813.93V702.23H1818.09V708.96H1822.24V714.91H1826.4V720.07H1830.56V722.69H1834.71V737.4H1838.87V739.37H1843.03V747.29H1847.18V752.94H1851.34V760.93H1855.49V762.79H1859.65V771.04H1863.81V779.05H1867.96V785.48H1872.12V792.55H1876.28V798.23H1880.43V802.69H1884.59V806.34H1888.75V810.93H1892.9V815.33H1897.06V818.99H1901.22V822.33H1905.37V825.74H1909.53V829.62H1913.69V831.46H1917.84V834.64H1922V837.08H1926.16V839.09H1930.31V840.84H1934.47V842.58H1938.62V844.95H1942.78V845.95H1946.94V847.45H1951.09V849.21H1955.25V850.57H1955.5V858.3Z" fill="#156eb2" fill-opacity="0.56"/>
<text x="1714.84" y="888.3" font-size="22.7" text-anchor="middle" fill="#1c1c1c">20</text>
<text x="1797.97" y="888.3" font-size="22.7" text-anchor="middle" fill="#1c1c1c">40</text>
<text x="1881.1" y="888.3" font-size="22.7" text-anchor="middle" fill="#1c1c1c">60</text>
<text x="1626.2" y="867.3" font-size="22.7" text-anchor="end" fill="#1c1c1c">0</text>
<text x="1626.2" y="798.1" font-size="22.7" text-anchor="end" fill="#1c1c1c">0.01</text>
<text x="1626.2" y="728.9" font-size="22.7" text-anchor="end" fill="#1c1c1c">0.02</text>
<text x="1626.2" y="659.7" font-size="22.7" text-anchor="end" fill="#1c1c1c">0.03</text>
<text transform="translate(1571.6 754.5) rotate(-90)" font-size="25.4" text-anchor="middle" fill="#1c1c1c">Density</text>
<text x="1795.35" y="918.9" font-size="25.4" text-anchor="middle" fill="#1c1c1c">Hydrolysis<tspan dy="11.5" font-size="19.5">1</tspan><tspan dy="-11.5"> of Channel </tspan>1</text>
</g>
<g>
<path d="M398.13 1176.2V969M495.43 1176.2V969M592.73 1176.2V969M326.4 1107.13H637M326.4 1038.07H637" stroke="#dedede" stroke-width="1.4" stroke-dasharray="11.8 11.2" fill="none"/>
<path d="M398.13 1176.2v-3.6M398.13 969v3.6M495.43 1176.2v-3.6M495.43 969v3.6M592.73 1176.2v-3.6M592.73 969v3.6M316.4 1176.2h3.6M637 1176.2h-3.6M316.4 1107.13h3.6M637 1107.13h-3.6M316.4 1038.07h3.6M637 1038.07h-3.6M316.4 969h3.6M637 969h-3.6" stroke="#262626" stroke-width="1.6" fill="none"/>
<rect x="316.4" y="969" width="320.6" height="207.2" fill="none" stroke="#262626" stroke-width="1.7"/>
<path d="M316.4 1176.2V1159.55H321.26V1156.01H326.13V1153H330.99V1149.38H335.86V1145.47H340.72V1142.17H345.59V1137.7H350.45V1133.68H355.32V1129.1H360.18V1124.66H365.05V1118.64H369.91V1111.43H374.78V1102.08H379.64V1097.52H384.51V1092.19H389.37V1088.57H394.24V1081.53H399.1V1071.48H403.97V1067.34H408.83V1062.57H413.7V1057.23H418.56V1046.76H423.43V1039.31H428.29V1034.51H433.16V1025.34H438.02V1018.05H442.89V1014.47H447.75V1002.93H452.62V991.25H457.48V993.21H462.35V983.76H467.21V976.5H472.08V978.48H476.94V973.86H481.81V969H486.67V969H491.54V972.57H496.4V980.78H501.27V982.72H506.13V986.37H511V994.85H515.86V999.61H520.73V1010.85H525.59V1019.62H530.46V1025.52H535.32V1038.83H540.19V1050.24H545.05V1058.79H549.92V1068.3H554.78V1076.36H559.65V1086.52H564.51V1097.19H569.38V1106.27H574.24V1115.22H579.11V1121.01H583.97V1127.01H588.84V1133.47H593.7V1137.46H598.57V1142.11H603.43V1147.37H608.3V1151.59H613.16V1154.18H618.03V1157.12H622.89V1159.29H627.76V1161.27H632.62V1163.43H637V1176.2Z" fill="#156eb2" fill-opacity="0.56"/>
<text x="398.13" y="1206.2" font-size="22.7" text-anchor="middle" fill="#1c1c1c">40</text>
<text x="495.43" y="1206.2" font-size="22.7" text-anchor="middle" fill="#1c1c1c">60</text>
<text x="592.73" y="1206.2" font-size="22.7" text-anchor="middle" fill="#1c1c1c">80</text>
<text x="307.4" y="1185.2" font-size="22.7" text-anchor="end" fill="#1c1c1c">0</text>
<text x="307.4" y="1116.13" font-size="22.7" text-anchor="end" fill="#1c1c1c">0.01</text>
<text x="307.4" y="1047.07" font-size="22.7" text-anchor="end" fill="#1c1c1c">0.02</text>
<text x="307.4" y="978" font-size="22.7" text-anchor="end" fill="#1c1c1c">0.03</text>
<text transform="translate(253.1 1072.6) rotate(-90)" font-size="25.4" text-anchor="middle" fill="#1c1c1c">Density</text>
<text x="476.7" y="1236.8" font-size="25.4" text-anchor="middle" fill="#1c1c1c">Hydrolysis<tspan dy="11.5" font-size="19.5">2</tspan><tspan dy="-11.5"> of Channel </tspan>1</text>
</g>
<g>
<path d="M761.7 1176.2V969M841.75 1176.2V969M921.8 1176.2V969M1001.85 1176.2V969M765.9 1129.83H1077.9M765.9 1083.45H1077.9M765.9 1037.08H1077.9M765.9 990.7H1077.9" stroke="#dedede" stroke-width="1.4" stroke-dasharray="11.8 11.2" fill="none"/>
<path d="M761.7 1176.2v-3.6M761.7 969v3.6M841.75 1176.2v-3.6M841.75 969v3.6M921.8 1176.2v-3.6M921.8 969v3.6M1001.85 1176.2v-3.6M1001.85 969v3.6M755.9 1176.2h3.6M1077.9 1176.2h-3.6M755.9 1129.83h3.6M1077.9 1129.83h-3.6M755.9 1083.45h3.6M1077.9 1083.45h-3.6M755.9 1037.08h3.6M1077.9 1037.08h-3.6M755.9 990.7h3.6M1077.9 990.7h-3.6" stroke="#262626" stroke-width="1.6" fill="none"/>
<rect x="755.9" y="969" width="322" height="207.2" fill="none" stroke="#262626" stroke-width="1.7"/>
<path d="M755.9 1176.2V1160.74H759.9V1157.86H763.9V1154.68H767.91V1152.53H771.91V1151.21H775.91V1148.64H779.91V1146.81H783.92V1142.81H787.92V1139.45H791.92V1133.17H795.92V1128.35H799.93V1124.07H803.93V1120.72H807.93V1115.44H811.93V1110.6H815.94V1103.37H819.94V1096.6H823.94V1090.42H827.94V1087.54H831.95V1085.47H835.95V1078.67H839.95V1068.36H843.95V1060.2H847.96V1054.93H851.96V1052.97H855.96V1048.04H859.96V1037.52H863.97V1030.01H867.97V1025.97H871.97V1021.16H875.97V1017.41H879.98V1008.05H883.98V998.5H887.98V997.91H891.98V991.63H895.99V986.78H899.99V983.27H903.99V983.31H907.99V978.09H912V976.12H916V973.85H920V972.63H924V970.4H928.01V975.07H932.01V970.78H936.01V977.41H940.01V974.59H944.02V976.05H948.02V983H952.02V989.9H956.02V996.2H960.03V999.33H964.03V1001.29H968.03V1004.98H972.03V1011.51H976.04V1016.01H980.04V1017.53H984.04V1029.51H988.04V1038.34H992.05V1040.71H996.05V1048.53H1000.05V1056.53H1004.05V1058.66H1008.06V1066.56H1012.06V1072.96H1016.06V1078.45H1020.06V1088.21H1024.07V1096.98H1028.07V1102.13H1032.07V1111.32H1036.07V1116.53H1040.08V1119.88H1044.08V1124.52H1048.08V1130.24H1052.08V1135.09H1056.09V1139.22H1060.09V1143.56H1064.09V1147.55H1068.09V1151.67H1072.1V1154.31H1076.1V1156.25H1077.9V1176.2Z" fill="#156eb2" fill-opacity="0.56"/>
<text x="761.7" y="1206.2" font-size="22.7" text-anchor="middle" fill="#1c1c1c">20</text>
<text x="841.75" y="1206.2" font-size="22.7" text-anchor="middle" fill="#1c1c1c">40</text>
<text x="921.8" y="1206.2" font-size="22.7" text-anchor="middle" fill="#1c1c1c">60</text>
<text x="1001.85" y="1206.2" font-size="22.7" text-anchor="middle" fill="#1c1c1c">80</text>
<text x="746.9" y="1185.2" font-size="22.7" text-anchor="end" fill="#1c1c1c">0</text>
<text x="746.9" y="1138.83" font-size="22.7" text-anchor="end" fill="#1c1c1c">0.005</text>
<text x="746.9" y="1092.45" font-size="22.7" text-anchor="end" fill="#1c1c1c">0.01</text>
<text x="746.9" y="1046.08" font-size="22.7" text-anchor="end" fill="#1c1c1c">0.015</text>
<text x="746.9" y="999.7" font-size="22.7" text-anchor="end" fill="#1c1c1c">0.02</text>
<text transform="translate(679 1072.6) rotate(-90)" font-size="25.4" text-anchor="middle" fill="#1c1c1c">Density</text>
<text x="916.9" y="1236.8" font-size="25.4" text-anchor="middle" fill="#1c1c1c">Hydrolysis<tspan dy="11.5" font-size="19.5">1</tspan><tspan dy="-11.5"> of Channel </tspan>2</text>
</g>
<g>
<path d="M1236.47 1176.2V969M1329.74 1176.2V969M1423 1176.2V969M1205.9 1108H1517.2M1205.9 1039.79H1517.2M1205.9 971.59H1517.2" stroke="#dedede" stroke-width="1.4" stroke-dasharray="11.8 11.2" fill="none"/>
<path d="M1236.47 1176.2v-3.6M1236.47 969v3.6M1329.74 1176.2v-3.6M1329.74 969v3.6M1423 1176.2v-3.6M1423 969v3.6M1195.9 1176.2h3.6M1517.2 1176.2h-3.6M1195.9 1108h3.6M1517.2 1108h-3.6M1195.9 1039.79h3.6M1517.2 1039.79h-3.6M1195.9 971.59h3.6M1517.2 971.59h-3.6" stroke="#262626" stroke-width="1.6" fill="none"/>
<rect x="1195.9" y="969" width="321.3" height="207.2" fill="none" stroke="#262626" stroke-width="1.7"/>
<path d="M1195.9 1176.2V1166.42H1200.56V1162.35H1205.23V1158.8H1209.89V1157.02H1214.55V1155.12H1219.22V1153.2H1223.88V1149.46H1228.54V1145.81H1233.21V1141.69H1237.87V1137.54H1242.53V1133.28H1247.2V1126.31H1251.86V1119.36H1256.52V1112.37H1261.19V1105.63H1265.85V1097.61H1270.51V1090.22H1275.18V1080.74H1279.84V1071.61H1284.5V1062.56H1289.17V1053.74H1293.83V1045.55H1298.49V1034.02H1303.16V1024.31H1307.82V1012.51H1312.48V1004.56H1317.15V994.45H1321.81V982.85H1326.47V975.98H1331.14V974.04H1335.8V975.66H1340.46V973.43H1345.12V971.53H1349.79V973.23H1354.45V972.65H1359.11V977.39H1363.78V982.07H1368.44V988.27H1373.1V994.78H1377.77V998.76H1382.43V1010.55H1387.09V1022.31H1391.76V1028.06H1396.42V1037.44H1401.08V1046H1405.75V1053.95H1410.41V1063.98H1415.07V1071.36H1419.74V1079.13H1424.4V1085.77H1429.06V1093.42H1433.73V1101.42H1438.39V1107.88H1443.05V1115.44H1447.72V1121.2H1452.38V1125.87H1457.04V1130.97H1461.71V1135.08H1466.37V1138.96H1471.03V1142.77H1475.7V1146.89H1480.36V1151.19H1485.02V1153.6H1489.69V1156.23H1494.35V1158.61H1499.01V1160.88H1503.68V1162.83H1508.34V1164.63H1513V1165.74H1517.2V1176.2Z" fill="#156eb2" fill-opacity="0.56"/>
<text x="1236.47" y="1206.2" font-size="22.7" text-anchor="middle" fill="#1c1c1c">40</text>
<text x="1329.74" y="1206.2" font-size="22.7" text-anchor="middle" fill="#1c1c1c">60</text>
<text x="1423" y="1206.2" font-size="22.7" text-anchor="middle" fill="#1c1c1c">80</text>
<text x="1186.9" y="1185.2" font-size="22.7" text-anchor="end" fill="#1c1c1c">0</text>
<text x="1186.9" y="1117" font-size="22.7" text-anchor="end" fill="#1c1c1c">0.01</text>
<text x="1186.9" y="1048.79" font-size="22.7" text-anchor="end" fill="#1c1c1c">0.02</text>
<text x="1186.9" y="980.59" font-size="22.7" text-anchor="end" fill="#1c1c1c">0.03</text>
<text transform="translate(1132.2 1072.6) rotate(-90)" font-size="25.4" text-anchor="middle" fill="#1c1c1c">Density</text>
<text x="1356.55" y="1236.8" font-size="25.4" text-anchor="middle" fill="#1c1c1c">Hydrolysis<tspan dy="11.5" font-size="19.5">2</tspan><tspan dy="-11.5"> of Channel </tspan>2</text>
</g>
<g>
<path d="M1665.28 1176.2V1146.06H1671.35V1176.2ZM1671.65 1176.2V1121.62H1677.71V1176.2ZM1678.01 1176.2V1114.96H1684.08V1176.2ZM1684.38 1176.2V1093.07H1690.45V1176.2ZM1690.75 1176.2V1078.47H1696.82V1176.2ZM1697.12 1176.2V1069.59H1703.19V1176.2ZM1703.49 1176.2V1066.41H1709.55V1176.2ZM1709.85 1176.2V1034.05H1715.92V1176.2ZM1716.22 1176.2V1008.66H1722.29V1176.2ZM1722.59 1176.2V995.02H1728.66V1176.2ZM1728.96 1176.2V995.02H1735.02V1176.2ZM1735.32 1176.2V979.79H1741.39V1176.2ZM1741.69 1176.2V987.72H1747.76V1176.2ZM1748.06 1176.2V978.52H1754.13V1176.2ZM1754.43 1176.2V1006.76H1760.5V1176.2ZM1760.8 1176.2V1011.2H1766.86V1176.2ZM1767.16 1176.2V1026.75H1773.23V1176.2ZM1773.53 1176.2V1043.88H1779.6V1176.2ZM1779.9 1176.2V1058.8H1785.97V1176.2ZM1786.27 1176.2V1070.22H1792.33V1176.2ZM1792.63 1176.2V1089.89H1798.7V1176.2ZM1799 1176.2V1107.98H1805.07V1176.2ZM1805.37 1176.2V1112.42H1811.44V1176.2ZM1811.74 1176.2V1126.38H1817.81V1176.2ZM1818.11 1176.2V1137.17H1824.17V1176.2ZM1824.47 1176.2V1142.88H1830.54V1176.2ZM1830.84 1176.2V1141.3H1836.91V1176.2ZM1837.21 1176.2V1149.86H1843.28V1176.2ZM1843.58 1176.2V1152.08H1849.64V1176.2ZM1849.94 1176.2V1157.16H1856.01V1176.2ZM1856.31 1176.2V1160.97H1862.38V1176.2ZM1862.68 1176.2V1164.78H1868.75V1176.2ZM1869.05 1176.2V1164.78H1875.12V1176.2ZM1875.42 1176.2V1168.58H1881.48V1176.2ZM1881.78 1176.2V1169.85H1887.85V1176.2ZM1888.15 1176.2V1172.39H1894.22V1176.2ZM1894.52 1176.2V1173.03H1900.59V1176.2ZM1900.89 1176.2V1173.66H1906.95V1176.2ZM1907.25 1176.2V1174.3H1913.32V1176.2ZM1913.62 1176.2V1174.61H1919.69V1176.2ZM1919.99 1176.2V1175.25H1926.06V1176.2Z" fill="#3f7cb4"/>
<path d="M1731.99 967.4V1176.2M1859.35 967.4V1176.2M1653.2 1112.74H1955.5M1653.2 1049.28H1955.5M1653.2 985.82H1955.5" stroke="#a9a9a9" stroke-width="2" stroke-dasharray="11.6 11" fill="none"/>
<rect x="1635.2" y="969" width="320.3" height="207.2" fill="none" stroke="#111" stroke-width="2.2"/>
<text x="1731.99" y="1206.5" font-size="22.7" text-anchor="middle" fill="#111">40</text>
<text x="1859.35" y="1206.5" font-size="22.7" text-anchor="middle" fill="#111">60</text>
<text x="1629.7" y="1177.9" font-size="22.7" text-anchor="end" fill="#111">0</text>
<text x="1629.7" y="1120.94" font-size="22.7" text-anchor="end" fill="#111">0.02</text>
<text x="1629.7" y="1057.48" font-size="22.7" text-anchor="end" fill="#111">0.04</text>
<text x="1629.7" y="994.02" font-size="22.7" text-anchor="end" fill="#111">0.06</text>
<text transform="translate(1570.2 1072.6) rotate(-90)" font-size="25.4" text-anchor="middle" fill="#111">Density</text>
<text x="1796.85" y="1235.8" font-size="25.7" text-anchor="middle" fill="#111">Read length (bp)</text>
</g>
<text x="109" y="28.5" font-size="46" text-anchor="start" fill="#000">a</text>
<text x="108.3" y="1317.2" font-size="46" text-anchor="start" fill="#000">b</text>
<text x="623" y="1316.5" font-size="46" text-anchor="start" fill="#000">c</text>
<text x="1002" y="1317" font-size="46" text-anchor="start" fill="#000">d</text>
<text x="11.9" y="1855.8" font-size="46" text-anchor="start" fill="#000">e</text>
<text x="1420" y="1917" font-size="46" text-anchor="start" fill="#000">f</text>
<g>
<text x="152.22" y="1389.3" font-size="27.4" fill="#333333" font-family='"Liberation Mono", "Courier New", monospace' xml:space="preserve" textLength="279.48" lengthAdjust="spacing">Sequence: TGCCAGG</text>
<text x="234.42" y="1422" font-size="27.4" fill="#333333" font-family='"Liberation Mono", "Courier New", monospace' xml:space="preserve" textLength="197.28" lengthAdjust="spacing">No.: 1234567</text>
<path d="M369.05 1436.4h15.1v7.8h32.05L376.6 1468.8L337 1444.2h32.05Z" fill="#000"/>
<text x="168.66" y="1500.3" font-size="27.4" fill="#333333" font-family='"Liberation Mono", "Courier New", monospace' xml:space="preserve" textLength="263.04" lengthAdjust="spacing">Split: TG CCA GG</text>
<text x="201.54" y="1533" font-size="27.4" fill="#333333" font-family='"Liberation Mono", "Courier New", monospace' xml:space="preserve" textLength="230.16" lengthAdjust="spacing">No.: 12 345 67</text>
<path d="M369.05 1548.3h15.1v7.8h32.05L376.6 1580.7L337 1556.1h32.05Z" fill="#000"/>
<text x="185.1" y="1612.4" font-size="27.4" fill="#333333" font-family='"Liberation Mono", "Courier New", monospace' xml:space="preserve" textLength="246.6" lengthAdjust="spacing">Sort: GT ACC GG</text>
<text x="201.54" y="1645.2" font-size="27.4" fill="#333333" font-family='"Liberation Mono", "Courier New", monospace' xml:space="preserve" textLength="230.16" lengthAdjust="spacing">No.: 21 534 67</text>
<path d="M369.05 1660h15.1v7.8h32.05L376.6 1692.4L337 1667.8h32.05Z" fill="#000"/>
<text x="185.1" y="1723.6" font-size="27.4" fill="#333333" font-family='"Liberation Mono", "Courier New", monospace' xml:space="preserve" textLength="246.6" lengthAdjust="spacing">Rejoin: GTACCGG</text>
<text x="234.42" y="1756.4" font-size="27.4" fill="#333333" font-family='"Liberation Mono", "Courier New", monospace' xml:space="preserve" textLength="197.28" lengthAdjust="spacing">No.: 2153467</text>
<rect x="309.5" y="1731.9" width="132" height="31.7" fill="none" stroke="#000" stroke-width="2.9"/>
<path d="M491.2 1747.7L454.7 1758.9L462.17 1749.6L452.6 1749.6L452.6 1745.8L462.17 1745.8L454.7 1736.5Z" fill="#000"/>
<text x="504" y="1756.4" font-size="27.4" fill="#333333" font-family='"Liberation Mono", "Courier New", monospace' xml:space="preserve" textLength="131.52" lengthAdjust="spacing">Site Map</text>
</g>
<g>
<text x="753.12" y="1371.7" font-size="27.4" fill="#333333" font-family='"Liberation Mono", "Courier New", monospace' xml:space="preserve" textLength="197.28" lengthAdjust="spacing">Seq: TGCTAGG</text>
<text x="835.32" y="1405.4" font-size="23.56" fill="#333333" font-family='"Liberation Mono", "Courier New", monospace' xml:space="preserve" textLength="115.08" lengthAdjust="spacing">||| |||</text>
<text x="753.12" y="1437.9" font-size="27.4" fill="#333333" font-family='"Liberation Mono", "Courier New", monospace' xml:space="preserve" textLength="197.28" lengthAdjust="spacing">Ref: TGCCAGG</text>
<text x="670.92" y="1470.8" font-size="27.4" fill="#333333" font-family='"Liberation Mono", "Courier New", monospace' xml:space="preserve" textLength="279.48" lengthAdjust="spacing">Site Map: 1234567</text>
<path d="M827.3 1500h22.4v22.2h44.3L838.5 1577.6L783 1522.2h44.3Z" fill="#999"/>
<text x="842.4" y="1545.4" font-size="23" text-anchor="middle" fill="#000" stroke="#000" stroke-width="0.3">super-bit seq encoding</text>
<text x="753.12" y="1614.8" font-size="27.4" fill="#333333" font-family='"Liberation Mono", "Courier New", monospace' xml:space="preserve" textLength="197.28" lengthAdjust="spacing">Seq: GTCTAGG</text>
<text x="835.32" y="1648.5" font-size="23.56" fill="#333333" font-family='"Liberation Mono", "Courier New", monospace' xml:space="preserve" textLength="115.08" lengthAdjust="spacing">||   ||</text>
<text x="753.12" y="1681" font-size="27.4" fill="#333333" font-family='"Liberation Mono", "Courier New", monospace' xml:space="preserve" textLength="197.28" lengthAdjust="spacing">Ref: GTACCGG</text>
<text x="670.92" y="1713.8" font-size="27.4" fill="#333333" font-family='"Liberation Mono", "Courier New", monospace' xml:space="preserve" textLength="279.48" lengthAdjust="spacing">Site Map: 2153467</text>
</g>
<g>
<text x="1269.02" y="1297.4" font-size="27.4" fill="#333333" font-family='"Liberation Mono", "Courier New", monospace' xml:space="preserve" textLength="197.28" lengthAdjust="spacing">Seq: GTCTAGG</text>
<rect x="1052.8" y="1369.5" width="260.7" height="337.6" fill="#b2dd8b"/>
<rect x="1341.9" y="1369.5" width="260.7" height="337.6" fill="#e8949a"/>
<path d="M1266.2 1365.6L1289.26 1314L1291.49 1328.44L1310.07 1307.27L1318.33 1314.53L1299.76 1335.7L1314.37 1336.03Z" fill="#000"/>
<path d="M1490.6 1365.6L1442.49 1335.93L1457.1 1335.63L1438.66 1314.52L1446.94 1307.28L1465.39 1328.39L1467.64 1313.95Z" fill="#000"/>
<path d="M1266.2 1709.6L1314.32 1739.26L1299.7 1739.56L1318.34 1760.88L1310.06 1768.12L1291.42 1746.8L1289.17 1761.25Z" fill="#000"/>
<path d="M1490.6 1709.6L1467.74 1761.29L1465.45 1746.86L1446.95 1768.11L1438.65 1760.89L1457.16 1739.63L1442.55 1739.36Z" fill="#000"/>
<text x="1380.3" y="1334.7" font-size="22.9" text-anchor="middle" fill="#000" stroke="#000" stroke-width="0.3">separate</text>
<text x="1380.3" y="1752.3" font-size="22.9" text-anchor="middle" fill="#000" stroke="#000" stroke-width="0.3">separate</text>
<text x="1146.44" y="1400.1" font-size="27.4" fill="#333333" font-family='"Liberation Mono", "Courier New", monospace' xml:space="preserve" textLength="147.96" lengthAdjust="spacing">Seq: GAGG</text>
<path d="M1253.25 1413.2h15.1v8.2h32.05L1260.8 1445.7L1221.2 1421.4h32.05Z" fill="#000"/>
<text x="1146.44" y="1487.9" font-size="27.4" fill="#333333" font-family='"Liberation Mono", "Courier New", monospace' xml:space="preserve" textLength="147.96" lengthAdjust="spacing">Seq: GAGG</text>
<text x="1228.64" y="1521.1" font-size="23.56" fill="#333333" font-family='"Liberation Mono", "Courier New", monospace' xml:space="preserve" textLength="65.76" lengthAdjust="spacing">||||</text>
<text x="1146.44" y="1554.4" font-size="27.4" fill="#333333" font-family='"Liberation Mono", "Courier New", monospace' xml:space="preserve" textLength="147.96" lengthAdjust="spacing">Ref: GAGG</text>
<text x="1064.24" y="1587.6" font-size="27.4" fill="#333333" font-family='"Liberation Mono", "Courier New", monospace' xml:space="preserve" textLength="230.16" lengthAdjust="spacing">Site Map: 2567</text>
<path d="M1260.8 1602.5L1300.4 1626.5h-32.05v7.8h-15.1v-7.8h-32.05Z" fill="#000"/>
<text x="1146.44" y="1657.8" font-size="27.4" fill="#333333" font-family='"Liberation Mono", "Courier New", monospace' xml:space="preserve" textLength="147.96" lengthAdjust="spacing">Ref: GAGG</text>
<text x="1064.24" y="1691.5" font-size="27.4" fill="#333333" font-family='"Liberation Mono", "Courier New", monospace' xml:space="preserve" textLength="230.16" lengthAdjust="spacing">Site Map: 2567</text>
<text x="1455.08" y="1400.1" font-size="27.4" fill="#333333" font-family='"Liberation Mono", "Courier New", monospace' xml:space="preserve" textLength="131.52" lengthAdjust="spacing">Seq: TCT</text>
<path d="M1557.75 1413.2h15.1v8.2h32.05L1565.3 1445.7L1525.7 1421.4h32.05Z" fill="#000"/>
<text x="1455.08" y="1487.9" font-size="27.4" fill="#333333" font-family='"Liberation Mono", "Courier New", monospace' xml:space="preserve" textLength="131.52" lengthAdjust="spacing">Seq: TCT</text>
<text x="1537.28" y="1521.1" font-size="23.56" fill="#333333" font-family='"Liberation Mono", "Courier New", monospace' xml:space="preserve" textLength="49.32" lengthAdjust="spacing">|| </text>
<text x="1455.08" y="1554.4" font-size="27.4" fill="#333333" font-family='"Liberation Mono", "Courier New", monospace' xml:space="preserve" textLength="131.52" lengthAdjust="spacing">Ref: TCC</text>
<text x="1372.88" y="1587.6" font-size="27.4" fill="#333333" font-family='"Liberation Mono", "Courier New", monospace' xml:space="preserve" textLength="213.72" lengthAdjust="spacing">Site Map: 134</text>
<path d="M1565.3 1602.5L1604.9 1626.5h-32.05v7.8h-15.1v-7.8h-32.05Z" fill="#000"/>
<text x="1455.08" y="1657.8" font-size="27.4" fill="#333333" font-family='"Liberation Mono", "Courier New", monospace' xml:space="preserve" textLength="131.52" lengthAdjust="spacing">Ref: TCC</text>
<text x="1372.88" y="1691.5" font-size="27.4" fill="#333333" font-family='"Liberation Mono", "Courier New", monospace' xml:space="preserve" textLength="213.72" lengthAdjust="spacing">Site Map: 134</text>
<path d="M1052.8 1467.75V1456.1H1064.45M1590.95 1456.1H1602.6V1467.75M1602.6 1587.45V1599.1H1590.95M1064.45 1599.1H1052.8V1587.45M1086.97 1456.1h23.3M1086.97 1599.1h23.3M1132.78 1456.1h23.3M1132.78 1599.1h23.3M1178.6 1456.1h23.3M1178.6 1599.1h23.3M1224.42 1456.1h23.3M1224.42 1599.1h23.3M1270.23 1456.1h23.3M1270.23 1599.1h23.3M1316.05 1456.1h23.3M1316.05 1599.1h23.3M1361.87 1456.1h23.3M1361.87 1599.1h23.3M1407.68 1456.1h23.3M1407.68 1599.1h23.3M1453.5 1456.1h23.3M1453.5 1599.1h23.3M1499.32 1456.1h23.3M1499.32 1599.1h23.3M1545.13 1456.1h23.3M1545.13 1599.1h23.3M1052.8 1492.12v23.3M1602.6 1492.12v23.3M1052.8 1539.78v23.3M1602.6 1539.78v23.3" fill="none" stroke="#000" stroke-width="4" stroke-linejoin="miter"/>
<path d="M1699.8 1528.6L1644.8 1545.6L1655.95 1533.75L1602.7 1533.75L1602.7 1523.45L1655.95 1523.45L1644.8 1511.6Z" fill="#000"/>
<text x="1616" y="1500.7" font-size="22.9" text-anchor="start" fill="#000" stroke="#000" stroke-width="0.3">merge</text>
<text x="1757.62" y="1489.3" font-size="27.4" fill="#333333" font-family='"Liberation Mono", "Courier New", monospace' xml:space="preserve" textLength="197.28" lengthAdjust="spacing">Seq: TGCTAGG</text>
<text x="1839.82" y="1522.5" font-size="23.56" fill="#333333" font-family='"Liberation Mono", "Courier New", monospace' xml:space="preserve" textLength="115.08" lengthAdjust="spacing">||| |||</text>
<text x="1757.62" y="1555.2" font-size="27.4" fill="#333333" font-family='"Liberation Mono", "Courier New", monospace' xml:space="preserve" textLength="197.28" lengthAdjust="spacing">Ref: TGCCAGG</text>
<text x="1675.42" y="1588.1" font-size="27.4" fill="#333333" font-family='"Liberation Mono", "Courier New", monospace' xml:space="preserve" textLength="279.48" lengthAdjust="spacing">Site Map: 1234567</text>
<text x="1269.02" y="1801.7" font-size="27.4" fill="#333333" font-family='"Liberation Mono", "Courier New", monospace' xml:space="preserve" textLength="197.28" lengthAdjust="spacing">Ref: GTACCGG</text>
<text x="1186.82" y="1835.3" font-size="27.4" fill="#333333" font-family='"Liberation Mono", "Courier New", monospace' xml:space="preserve" textLength="279.48" lengthAdjust="spacing">Site Map: 2153467</text>
</g>
<g>
<path d="M81.4 2037.83H1030.6M81.4 1976.77H1030.6" stroke="#b2b2b2" stroke-width="2.4" stroke-dasharray="11.2 5" fill="none"/>
<g fill="#3f7cb4"><circle cx="84.56" cy="2075.69" r="5.1"/><circle cx="90.89" cy="2044.86" r="5.1"/><circle cx="97.22" cy="2017.07" r="5.1"/><circle cx="103.55" cy="2032.34" r="5.1"/><circle cx="109.88" cy="2037.22" r="5.1"/><circle cx="116.2" cy="2028.67" r="5.1"/><circle cx="122.53" cy="2004.25" r="5.1"/><circle cx="128.86" cy="2017.68" r="5.1"/><circle cx="135.19" cy="2043.33" r="5.1"/><circle cx="141.52" cy="2053.71" r="5.1"/><circle cx="147.84" cy="2053.71" r="5.1"/><circle cx="154.17" cy="2040.28" r="5.1"/><circle cx="160.5" cy="2050.66" r="5.1"/><circle cx="166.83" cy="2037.22" r="5.1"/><circle cx="173.16" cy="2034.78" r="5.1"/><circle cx="179.48" cy="2021.35" r="5.1"/><circle cx="185.81" cy="2046.99" r="5.1"/><circle cx="192.14" cy="2049.44" r="5.1"/><circle cx="198.47" cy="2049.44" r="5.1"/><circle cx="204.8" cy="2058.6" r="5.1"/><circle cx="211.12" cy="2048.21" r="5.1"/><circle cx="217.45" cy="2057.37" r="5.1"/><circle cx="223.78" cy="2058.29" r="5.1"/><circle cx="230.11" cy="2068.98" r="5.1"/><circle cx="236.44" cy="2058.6" r="5.1"/><circle cx="242.76" cy="2045.77" r="5.1"/><circle cx="249.09" cy="2059.51" r="5.1"/><circle cx="255.42" cy="2027.45" r="5.1"/><circle cx="261.75" cy="2048.21" r="5.1"/><circle cx="268.08" cy="2057.68" r="5.1"/><circle cx="274.4" cy="2070.81" r="5.1"/><circle cx="280.73" cy="2036.61" r="5.1"/><circle cx="287.06" cy="2057.99" r="5.1"/><circle cx="293.39" cy="2076" r="5.1"/><circle cx="299.72" cy="2082.41" r="5.1"/><circle cx="306.04" cy="2074.17" r="5.1"/><circle cx="312.37" cy="2069.28" r="5.1"/><circle cx="318.7" cy="2059.21" r="5.1"/><circle cx="325.03" cy="2054.32" r="5.1"/><circle cx="331.36" cy="2032.95" r="5.1"/><circle cx="337.68" cy="1982.26" r="5.1"/><circle cx="344.01" cy="2053.71" r="5.1"/><circle cx="350.34" cy="2061.04" r="5.1"/><circle cx="356.67" cy="2052.49" r="5.1"/><circle cx="363" cy="2049.44" r="5.1"/><circle cx="369.32" cy="2042.72" r="5.1"/><circle cx="375.65" cy="2052.49" r="5.1"/><circle cx="381.98" cy="2067.76" r="5.1"/><circle cx="388.31" cy="2075.69" r="5.1"/><circle cx="394.64" cy="2063.79" r="5.1"/><circle cx="400.96" cy="2029.89" r="5.1"/><circle cx="407.29" cy="2033.56" r="5.1"/><circle cx="413.62" cy="1985.62" r="5.1"/><circle cx="419.95" cy="1992.34" r="5.1"/><circle cx="426.28" cy="2043.33" r="5.1"/><circle cx="432.6" cy="2060.73" r="5.1"/><circle cx="438.93" cy="2043.33" r="5.1"/><circle cx="445.26" cy="2053.41" r="5.1"/><circle cx="451.59" cy="2054.63" r="5.1"/><circle cx="457.92" cy="2046.38" r="5.1"/><circle cx="464.24" cy="2008.83" r="5.1"/><circle cx="470.57" cy="1993.87" r="5.1"/><circle cx="476.9" cy="2040.89" r="5.1"/><circle cx="483.23" cy="2033.86" r="5.1"/><circle cx="489.56" cy="2047.91" r="5.1"/><circle cx="495.88" cy="2041.5" r="5.1"/><circle cx="502.21" cy="2032.34" r="5.1"/><circle cx="508.54" cy="2047.91" r="5.1"/><circle cx="514.87" cy="2056.15" r="5.1"/><circle cx="521.2" cy="2042.11" r="5.1"/><circle cx="527.52" cy="2001.19" r="5.1"/><circle cx="533.85" cy="2030.2" r="5.1"/><circle cx="540.18" cy="2051.88" r="5.1"/><circle cx="546.51" cy="2051.57" r="5.1"/><circle cx="552.84" cy="2062.87" r="5.1"/><circle cx="559.16" cy="2061.95" r="5.1"/><circle cx="565.49" cy="2065.01" r="5.1"/><circle cx="571.82" cy="2051.57" r="5.1"/><circle cx="578.15" cy="2060.43" r="5.1"/><circle cx="584.48" cy="2056.15" r="5.1"/><circle cx="590.8" cy="2051.27" r="5.1"/><circle cx="597.13" cy="2017.07" r="5.1"/><circle cx="603.46" cy="2029.89" r="5.1"/><circle cx="609.79" cy="2041.19" r="5.1"/><circle cx="616.12" cy="2040.28" r="5.1"/><circle cx="622.44" cy="2048.21" r="5.1"/><circle cx="628.77" cy="2007.3" r="5.1"/><circle cx="635.1" cy="2029.59" r="5.1"/><circle cx="641.43" cy="2017.07" r="5.1"/><circle cx="647.76" cy="1999.97" r="5.1"/><circle cx="654.08" cy="1995.09" r="5.1"/><circle cx="660.41" cy="2038.44" r="5.1"/><circle cx="666.74" cy="2036.92" r="5.1"/><circle cx="673.07" cy="2029.89" r="5.1"/><circle cx="679.4" cy="2003.64" r="5.1"/><circle cx="685.72" cy="2042.11" r="5.1"/><circle cx="692.05" cy="2053.41" r="5.1"/><circle cx="698.38" cy="2059.21" r="5.1"/><circle cx="704.71" cy="2030.81" r="5.1"/><circle cx="711.04" cy="2038.44" r="5.1"/><circle cx="717.36" cy="2009.74" r="5.1"/><circle cx="723.69" cy="2071.11" r="5.1"/><circle cx="730.02" cy="2069.59" r="5.1"/><circle cx="736.35" cy="2062.87" r="5.1"/><circle cx="742.68" cy="2064.09" r="5.1"/><circle cx="749" cy="2071.42" r="5.1"/><circle cx="755.33" cy="2055.54" r="5.1"/><circle cx="761.66" cy="2047.91" r="5.1"/><circle cx="767.99" cy="2038.75" r="5.1"/><circle cx="774.32" cy="2062.26" r="5.1"/><circle cx="780.64" cy="2052.79" r="5.1"/><circle cx="786.97" cy="2032.03" r="5.1"/><circle cx="793.3" cy="2061.04" r="5.1"/><circle cx="799.63" cy="2075.69" r="5.1"/><circle cx="805.96" cy="2072.34" r="5.1"/><circle cx="812.28" cy="2042.72" r="5.1"/><circle cx="818.61" cy="2012.19" r="5.1"/><circle cx="824.94" cy="1996" r="5.1"/><circle cx="831.27" cy="2005.47" r="5.1"/><circle cx="837.6" cy="2046.08" r="5.1"/><circle cx="843.92" cy="2029.28" r="5.1"/><circle cx="850.25" cy="2030.51" r="5.1"/><circle cx="856.58" cy="2031.73" r="5.1"/><circle cx="862.91" cy="2022.57" r="5.1"/><circle cx="869.24" cy="2000.58" r="5.1"/><circle cx="875.56" cy="2046.08" r="5.1"/><circle cx="881.89" cy="2010.05" r="5.1"/><circle cx="888.22" cy="2018.9" r="5.1"/><circle cx="894.55" cy="2027.45" r="5.1"/><circle cx="900.88" cy="2013.71" r="5.1"/><circle cx="907.2" cy="2007.91" r="5.1"/><circle cx="913.53" cy="2039.67" r="5.1"/><circle cx="919.86" cy="2066.53" r="5.1"/><circle cx="926.19" cy="2037.83" r="5.1"/><circle cx="932.52" cy="2018.29" r="5.1"/><circle cx="938.84" cy="2035.7" r="5.1"/><circle cx="945.17" cy="2061.34" r="5.1"/><circle cx="951.5" cy="2021.65" r="5.1"/><circle cx="957.83" cy="2018.9" r="5.1"/><circle cx="964.16" cy="1997.53" r="5.1"/><circle cx="970.48" cy="2019.21" r="5.1"/><circle cx="976.81" cy="1995.09" r="5.1"/><circle cx="983.14" cy="2019.21" r="5.1"/><circle cx="989.47" cy="1981.04" r="5.1"/><circle cx="995.8" cy="1964.55" r="5.1"/><circle cx="1002.12" cy="1967.61" r="5.1"/><circle cx="1008.45" cy="1937.68" r="5.1"/><circle cx="1014.78" cy="2006.69" r="5.1"/><circle cx="1021.11" cy="2014.02" r="5.1"/></g>
<rect x="81.4" y="1915.7" width="949.2" height="183.2" fill="none" stroke="#000" stroke-width="2.9"/>
<text x="66.2" y="2106.5" font-size="22.4" text-anchor="end" fill="#000">0</text>
<text x="66.2" y="2045.43" font-size="22.4" text-anchor="end" fill="#000">1</text>
<text x="66.2" y="1984.37" font-size="22.4" text-anchor="end" fill="#000">2</text>
<text x="66.2" y="1923.3" font-size="22.4" text-anchor="end" fill="#000">3</text>
<path d="M80.2 2098.9h-6.4M80.2 2037.83h-6.4M80.2 1976.77h-6.4M80.2 1915.7h-6.4" stroke="#000" stroke-width="2" fill="none"/>
<text x="97.6" y="1945.7" font-size="22.6" text-anchor="start" fill="#000">E20</text>
<path d="M1085.8 1938.37H1099.09V1945.43H1085.8ZM1085.8 1960.01H1099.09V1967.06H1085.8ZM1085.8 1967.22H1099.09V1974.27H1085.8ZM1085.8 1974.43H1099.09V1981.49H1085.8ZM1085.8 1981.65H1112.37V1988.7H1085.8ZM1085.8 1988.86H1138.94V1995.91H1085.8ZM1085.8 1996.07H1152.23V2003.12H1085.8ZM1085.8 2003.28H1205.37V2010.33H1085.8ZM1085.8 2010.49H1165.51V2017.55H1085.8ZM1085.8 2017.71H1205.37V2024.76H1085.8ZM1085.8 2024.92H1231.94V2031.97H1085.8ZM1085.8 2032.13H1311.66V2039.18H1085.8ZM1085.8 2039.34H1311.66V2046.39H1085.8ZM1085.8 2046.55H1338.23V2053.61H1085.8ZM1085.8 2053.77H1351.51V2060.82H1085.8ZM1085.8 2060.98H1258.51V2068.03H1085.8ZM1085.8 2068.19H1192.09V2075.24H1085.8ZM1085.8 2075.4H1152.23V2082.45H1085.8Z" fill="#3f7cb4"/>
<rect x="1085.8" y="1915.7" width="279" height="183.2" fill="none" stroke="#000" stroke-width="2.9"/>
<path d="M81.4 2257.63H1030.6M81.4 2196.57H1030.6" stroke="#b2b2b2" stroke-width="2.4" stroke-dasharray="11.2 5" fill="none"/>
<g fill="#3f7cb4"><circle cx="84.56" cy="2284.2" r="5.1"/><circle cx="90.89" cy="2243.28" r="5.1"/><circle cx="97.22" cy="2206.34" r="5.1"/><circle cx="103.55" cy="2222.83" r="5.1"/><circle cx="109.88" cy="2230.46" r="5.1"/><circle cx="116.2" cy="2204.51" r="5.1"/><circle cx="122.53" cy="2194.73" r="5.1"/><circle cx="128.86" cy="2220.38" r="5.1"/><circle cx="135.19" cy="2224.66" r="5.1"/><circle cx="141.52" cy="2250.61" r="5.1"/><circle cx="147.84" cy="2250" r="5.1"/><circle cx="154.17" cy="2242.06" r="5.1"/><circle cx="160.5" cy="2253.97" r="5.1"/><circle cx="166.83" cy="2237.79" r="5.1"/><circle cx="173.16" cy="2242.98" r="5.1"/><circle cx="179.48" cy="2236.26" r="5.1"/><circle cx="185.81" cy="2248.47" r="5.1"/><circle cx="192.14" cy="2253.66" r="5.1"/><circle cx="198.47" cy="2255.5" r="5.1"/><circle cx="204.8" cy="2263.13" r="5.1"/><circle cx="211.12" cy="2254.89" r="5.1"/><circle cx="217.45" cy="2257.33" r="5.1"/><circle cx="223.78" cy="2265.88" r="5.1"/><circle cx="230.11" cy="2278.4" r="5.1"/><circle cx="236.44" cy="2270.76" r="5.1"/><circle cx="242.76" cy="2258.85" r="5.1"/><circle cx="249.09" cy="2269.54" r="5.1"/><circle cx="255.42" cy="2249.08" r="5.1"/><circle cx="261.75" cy="2267.4" r="5.1"/><circle cx="268.08" cy="2276.56" r="5.1"/><circle cx="274.4" cy="2280.23" r="5.1"/><circle cx="280.73" cy="2261.91" r="5.1"/><circle cx="287.06" cy="2271.37" r="5.1"/><circle cx="293.39" cy="2286.33" r="5.1"/><circle cx="299.72" cy="2294.27" r="5.1"/><circle cx="306.04" cy="2285.72" r="5.1"/><circle cx="312.37" cy="2282.98" r="5.1"/><circle cx="318.7" cy="2277.48" r="5.1"/><circle cx="325.03" cy="2267.1" r="5.1"/><circle cx="331.36" cy="2257.33" r="5.1"/><circle cx="337.68" cy="2231.99" r="5.1"/><circle cx="344.01" cy="2275.65" r="5.1"/><circle cx="350.34" cy="2272.59" r="5.1"/><circle cx="356.67" cy="2274.73" r="5.1"/><circle cx="363" cy="2276.87" r="5.1"/><circle cx="369.32" cy="2265.27" r="5.1"/><circle cx="375.65" cy="2270.15" r="5.1"/><circle cx="381.98" cy="2283.28" r="5.1"/><circle cx="388.31" cy="2288.17" r="5.1"/><circle cx="394.64" cy="2289.69" r="5.1"/><circle cx="400.96" cy="2261.3" r="5.1"/><circle cx="407.29" cy="2249.69" r="5.1"/><circle cx="413.62" cy="2219.47" r="5.1"/><circle cx="419.95" cy="2239.62" r="5.1"/><circle cx="426.28" cy="2267.1" r="5.1"/><circle cx="432.6" cy="2287.86" r="5.1"/><circle cx="438.93" cy="2279.92" r="5.1"/><circle cx="445.26" cy="2271.37" r="5.1"/><circle cx="451.59" cy="2266.79" r="5.1"/><circle cx="457.92" cy="2258.85" r="5.1"/><circle cx="464.24" cy="2244.2" r="5.1"/><circle cx="470.57" cy="2240.84" r="5.1"/><circle cx="476.9" cy="2261.91" r="5.1"/><circle cx="483.23" cy="2257.33" r="5.1"/><circle cx="489.56" cy="2267.4" r="5.1"/><circle cx="495.88" cy="2274.73" r="5.1"/><circle cx="502.21" cy="2259.16" r="5.1"/><circle cx="508.54" cy="2270.76" r="5.1"/><circle cx="514.87" cy="2265.57" r="5.1"/><circle cx="521.2" cy="2247.25" r="5.1"/><circle cx="527.52" cy="2234.73" r="5.1"/><circle cx="533.85" cy="2248.47" r="5.1"/><circle cx="540.18" cy="2282.67" r="5.1"/><circle cx="546.51" cy="2273.21" r="5.1"/><circle cx="552.84" cy="2282.06" r="5.1"/><circle cx="559.16" cy="2277.79" r="5.1"/><circle cx="565.49" cy="2278.7" r="5.1"/><circle cx="571.82" cy="2264.35" r="5.1"/><circle cx="578.15" cy="2277.48" r="5.1"/><circle cx="584.48" cy="2274.73" r="5.1"/><circle cx="590.8" cy="2271.68" r="5.1"/><circle cx="597.13" cy="2241.45" r="5.1"/><circle cx="603.46" cy="2256.72" r="5.1"/><circle cx="609.79" cy="2260.38" r="5.1"/><circle cx="616.12" cy="2255.5" r="5.1"/><circle cx="622.44" cy="2273.21" r="5.1"/><circle cx="628.77" cy="2247.86" r="5.1"/><circle cx="635.1" cy="2242.37" r="5.1"/><circle cx="641.43" cy="2239.31" r="5.1"/><circle cx="647.76" cy="2232.29" r="5.1"/><circle cx="654.08" cy="2225.88" r="5.1"/><circle cx="660.41" cy="2265.57" r="5.1"/><circle cx="666.74" cy="2253.97" r="5.1"/><circle cx="673.07" cy="2264.05" r="5.1"/><circle cx="679.4" cy="2250.61" r="5.1"/><circle cx="685.72" cy="2261.91" r="5.1"/><circle cx="692.05" cy="2265.57" r="5.1"/><circle cx="698.38" cy="2283.28" r="5.1"/><circle cx="704.71" cy="2250.92" r="5.1"/><circle cx="711.04" cy="2269.54" r="5.1"/><circle cx="717.36" cy="2252.14" r="5.1"/><circle cx="723.69" cy="2286.03" r="5.1"/><circle cx="730.02" cy="2279.62" r="5.1"/><circle cx="736.35" cy="2273.82" r="5.1"/><circle cx="742.68" cy="2276.56" r="5.1"/><circle cx="749" cy="2278.09" r="5.1"/><circle cx="755.33" cy="2254.27" r="5.1"/><circle cx="761.66" cy="2256.11" r="5.1"/><circle cx="767.99" cy="2259.16" r="5.1"/><circle cx="774.32" cy="2275.65" r="5.1"/><circle cx="780.64" cy="2261.91" r="5.1"/><circle cx="786.97" cy="2246.03" r="5.1"/><circle cx="793.3" cy="2272.59" r="5.1"/><circle cx="799.63" cy="2293.36" r="5.1"/><circle cx="805.96" cy="2285.72" r="5.1"/><circle cx="812.28" cy="2257.33" r="5.1"/><circle cx="818.61" cy="2241.45" r="5.1"/><circle cx="824.94" cy="2246.03" r="5.1"/><circle cx="831.27" cy="2242.98" r="5.1"/><circle cx="837.6" cy="2271.98" r="5.1"/><circle cx="843.92" cy="2255.5" r="5.1"/><circle cx="850.25" cy="2239.92" r="5.1"/><circle cx="856.58" cy="2242.67" r="5.1"/><circle cx="862.91" cy="2250.31" r="5.1"/><circle cx="869.24" cy="2214.28" r="5.1"/><circle cx="875.56" cy="2250.31" r="5.1"/><circle cx="881.89" cy="2223.74" r="5.1"/><circle cx="888.22" cy="2237.48" r="5.1"/><circle cx="894.55" cy="2245.11" r="5.1"/><circle cx="900.88" cy="2236.87" r="5.1"/><circle cx="907.2" cy="2231.37" r="5.1"/><circle cx="913.53" cy="2265.27" r="5.1"/><circle cx="919.86" cy="2282.98" r="5.1"/><circle cx="926.19" cy="2288.47" r="5.1"/><circle cx="932.52" cy="2266.79" r="5.1"/><circle cx="938.84" cy="2267.4" r="5.1"/><circle cx="945.17" cy="2273.82" r="5.1"/><circle cx="951.5" cy="2257.94" r="5.1"/><circle cx="957.83" cy="2251.22" r="5.1"/><circle cx="964.16" cy="2237.48" r="5.1"/><circle cx="970.48" cy="2248.47" r="5.1"/><circle cx="976.81" cy="2248.47" r="5.1"/><circle cx="983.14" cy="2260.99" r="5.1"/><circle cx="989.47" cy="2241.45" r="5.1"/><circle cx="995.8" cy="2215.19" r="5.1"/><circle cx="1002.12" cy="2230.76" r="5.1"/><circle cx="1008.45" cy="2220.38" r="5.1"/><circle cx="1014.78" cy="2224.96" r="5.1"/><circle cx="1021.11" cy="2221.6" r="5.1"/></g>
<rect x="81.4" y="2135.5" width="949.2" height="183.2" fill="none" stroke="#000" stroke-width="2.9"/>
<text x="66.2" y="2326.3" font-size="22.4" text-anchor="end" fill="#000">0</text>
<text x="66.2" y="2265.23" font-size="22.4" text-anchor="end" fill="#000">1</text>
<text x="66.2" y="2204.17" font-size="22.4" text-anchor="end" fill="#000">2</text>
<text x="66.2" y="2143.1" font-size="22.4" text-anchor="end" fill="#000">3</text>
<path d="M80.2 2318.7h-6.4M80.2 2257.63h-6.4M80.2 2196.57h-6.4M80.2 2135.5h-6.4" stroke="#000" stroke-width="2" fill="none"/>
<text x="97.6" y="2165.5" font-size="22.6" text-anchor="start" fill="#000">E80</text>
<path d="M1085.8 2195.73H1102.41V2200.53H1085.8ZM1085.8 2205.65H1119.01V2210.46H1085.8ZM1085.8 2215.58H1135.62V2220.38H1085.8ZM1085.8 2220.54H1168.84V2225.34H1085.8ZM1085.8 2225.5H1135.62V2230.3H1085.8ZM1085.8 2230.46H1168.84V2235.26H1085.8ZM1085.8 2235.42H1185.44V2240.23H1085.8ZM1085.8 2240.39H1318.3V2245.19H1085.8ZM1085.8 2245.35H1235.26V2250.15H1085.8ZM1085.8 2250.31H1301.69V2255.11H1085.8ZM1085.8 2255.27H1318.3V2260.07H1085.8ZM1085.8 2260.23H1268.48V2265.03H1085.8ZM1085.8 2265.19H1318.3V2270H1085.8ZM1085.8 2270.16H1301.69V2274.96H1085.8ZM1085.8 2275.12H1351.51V2279.92H1085.8ZM1085.8 2280.08H1235.26V2284.88H1085.8ZM1085.8 2285.04H1218.66V2289.84H1085.8ZM1085.8 2290H1135.62V2294.8H1085.8Z" fill="#3f7cb4"/>
<rect x="1085.8" y="2135.5" width="279" height="183.2" fill="none" stroke="#000" stroke-width="2.9"/>
<path d="M81.4 2478.23H1030.6M81.4 2417.17H1030.6" stroke="#b2b2b2" stroke-width="2.4" stroke-dasharray="11.2 5" fill="none"/>
<g fill="#3f7cb4"><circle cx="84.56" cy="2534.11" r="5.1"/><circle cx="90.89" cy="2531.97" r="5.1"/><circle cx="97.22" cy="2533.5" r="5.1"/><circle cx="103.55" cy="2524.95" r="5.1"/><circle cx="109.88" cy="2508.77" r="5.1"/><circle cx="116.2" cy="2478.54" r="5.1"/><circle cx="122.53" cy="2473.65" r="5.1"/><circle cx="128.86" cy="2496.55" r="5.1"/><circle cx="135.19" cy="2491.36" r="5.1"/><circle cx="141.52" cy="2508.16" r="5.1"/><circle cx="147.84" cy="2502.35" r="5.1"/><circle cx="154.17" cy="2497.77" r="5.1"/><circle cx="160.5" cy="2510.9" r="5.1"/><circle cx="166.83" cy="2505.71" r="5.1"/><circle cx="173.16" cy="2495.33" r="5.1"/><circle cx="179.48" cy="2506.63" r="5.1"/><circle cx="185.81" cy="2500.52" r="5.1"/><circle cx="192.14" cy="2493.5" r="5.1"/><circle cx="198.47" cy="2474.87" r="5.1"/><circle cx="204.8" cy="2491.06" r="5.1"/><circle cx="211.12" cy="2492.89" r="5.1"/><circle cx="217.45" cy="2509.07" r="5.1"/><circle cx="223.78" cy="2496.55" r="5.1"/><circle cx="230.11" cy="2480.98" r="5.1"/><circle cx="236.44" cy="2455.94" r="5.1"/><circle cx="242.76" cy="2469.38" r="5.1"/><circle cx="249.09" cy="2495.33" r="5.1"/><circle cx="255.42" cy="2468.16" r="5.1"/><circle cx="261.75" cy="2458.08" r="5.1"/><circle cx="268.08" cy="2457.47" r="5.1"/><circle cx="274.4" cy="2464.8" r="5.1"/><circle cx="280.73" cy="2458.69" r="5.1"/><circle cx="287.06" cy="2480.68" r="5.1"/><circle cx="293.39" cy="2502.97" r="5.1"/><circle cx="299.72" cy="2518.54" r="5.1"/><circle cx="306.04" cy="2499" r="5.1"/><circle cx="312.37" cy="2481.9" r="5.1"/><circle cx="318.7" cy="2468.16" r="5.1"/><circle cx="325.03" cy="2439.15" r="5.1"/><circle cx="331.36" cy="2451.36" r="5.1"/><circle cx="337.68" cy="2410.75" r="5.1"/><circle cx="344.01" cy="2482.51" r="5.1"/><circle cx="350.34" cy="2470.29" r="5.1"/><circle cx="356.67" cy="2483.12" r="5.1"/><circle cx="363" cy="2499" r="5.1"/><circle cx="369.32" cy="2506.63" r="5.1"/><circle cx="375.65" cy="2510.29" r="5.1"/><circle cx="381.98" cy="2505.71" r="5.1"/><circle cx="388.31" cy="2502.97" r="5.1"/><circle cx="394.64" cy="2515.79" r="5.1"/><circle cx="400.96" cy="2498.08" r="5.1"/><circle cx="407.29" cy="2477.32" r="5.1"/><circle cx="413.62" cy="2451.67" r="5.1"/><circle cx="419.95" cy="2441.29" r="5.1"/><circle cx="426.28" cy="2451.67" r="5.1"/><circle cx="432.6" cy="2485.56" r="5.1"/><circle cx="438.93" cy="2481.59" r="5.1"/><circle cx="445.26" cy="2489.53" r="5.1"/><circle cx="451.59" cy="2498.69" r="5.1"/><circle cx="457.92" cy="2482.51" r="5.1"/><circle cx="464.24" cy="2471.52" r="5.1"/><circle cx="470.57" cy="2468.16" r="5.1"/><circle cx="476.9" cy="2455.33" r="5.1"/><circle cx="483.23" cy="2481.29" r="5.1"/><circle cx="489.56" cy="2501.44" r="5.1"/><circle cx="495.88" cy="2494.11" r="5.1"/><circle cx="502.21" cy="2491.36" r="5.1"/><circle cx="508.54" cy="2520.06" r="5.1"/><circle cx="514.87" cy="2463.27" r="5.1"/><circle cx="521.2" cy="2427.55" r="5.1"/><circle cx="527.52" cy="2420.83" r="5.1"/><circle cx="533.85" cy="2472.43" r="5.1"/><circle cx="540.18" cy="2495.33" r="5.1"/><circle cx="546.51" cy="2478.54" r="5.1"/><circle cx="552.84" cy="2492.58" r="5.1"/><circle cx="559.16" cy="2498.69" r="5.1"/><circle cx="565.49" cy="2509.99" r="5.1"/><circle cx="571.82" cy="2495.94" r="5.1"/><circle cx="578.15" cy="2494.72" r="5.1"/><circle cx="584.48" cy="2491.36" r="5.1"/><circle cx="590.8" cy="2467.85" r="5.1"/><circle cx="597.13" cy="2432.43" r="5.1"/><circle cx="603.46" cy="2468.46" r="5.1"/><circle cx="609.79" cy="2498.39" r="5.1"/><circle cx="616.12" cy="2484.95" r="5.1"/><circle cx="622.44" cy="2506.32" r="5.1"/><circle cx="628.77" cy="2458.08" r="5.1"/><circle cx="635.1" cy="2480.37" r="5.1"/><circle cx="641.43" cy="2441.9" r="5.1"/><circle cx="647.76" cy="2414.42" r="5.1"/><circle cx="654.08" cy="2396.71" r="5.1"/><circle cx="660.41" cy="2479.15" r="5.1"/><circle cx="666.74" cy="2455.03" r="5.1"/><circle cx="673.07" cy="2469.68" r="5.1"/><circle cx="679.4" cy="2479.15" r="5.1"/><circle cx="685.72" cy="2465.71" r="5.1"/><circle cx="692.05" cy="2451.06" r="5.1"/><circle cx="698.38" cy="2486.17" r="5.1"/><circle cx="704.71" cy="2449.23" r="5.1"/><circle cx="711.04" cy="2455.94" r="5.1"/><circle cx="717.36" cy="2437.32" r="5.1"/><circle cx="723.69" cy="2503.58" r="5.1"/><circle cx="730.02" cy="2468.16" r="5.1"/><circle cx="736.35" cy="2473.65" r="5.1"/><circle cx="742.68" cy="2485.56" r="5.1"/><circle cx="749" cy="2496.55" r="5.1"/><circle cx="755.33" cy="2463.27" r="5.1"/><circle cx="761.66" cy="2473.96" r="5.1"/><circle cx="767.99" cy="2451.06" r="5.1"/><circle cx="774.32" cy="2482.81" r="5.1"/><circle cx="780.64" cy="2474.57" r="5.1"/><circle cx="786.97" cy="2436.1" r="5.1"/><circle cx="793.3" cy="2475.79" r="5.1"/><circle cx="799.63" cy="2508.77" r="5.1"/><circle cx="805.96" cy="2496.25" r="5.1"/><circle cx="812.28" cy="2437.32" r="5.1"/><circle cx="818.61" cy="2434.57" r="5.1"/><circle cx="824.94" cy="2461.44" r="5.1"/><circle cx="831.27" cy="2445.26" r="5.1"/><circle cx="837.6" cy="2458.08" r="5.1"/><circle cx="843.92" cy="2426.02" r="5.1"/><circle cx="850.25" cy="2416.25" r="5.1"/><circle cx="856.58" cy="2389.08" r="5.1"/><circle cx="862.91" cy="2452.89" r="5.1"/><circle cx="869.24" cy="2460.83" r="5.1"/><circle cx="875.56" cy="2475.79" r="5.1"/><circle cx="881.89" cy="2482.81" r="5.1"/><circle cx="888.22" cy="2489.23" r="5.1"/><circle cx="894.55" cy="2492.58" r="5.1"/><circle cx="900.88" cy="2443.12" r="5.1"/><circle cx="907.2" cy="2469.68" r="5.1"/><circle cx="913.53" cy="2509.99" r="5.1"/><circle cx="919.86" cy="2521.59" r="5.1"/><circle cx="926.19" cy="2502.05" r="5.1"/><circle cx="932.52" cy="2485.87" r="5.1"/><circle cx="938.84" cy="2474.57" r="5.1"/><circle cx="945.17" cy="2483.73" r="5.1"/><circle cx="951.5" cy="2476.4" r="5.1"/><circle cx="957.83" cy="2440.07" r="5.1"/><circle cx="964.16" cy="2448.01" r="5.1"/><circle cx="970.48" cy="2469.68" r="5.1"/><circle cx="976.81" cy="2493.5" r="5.1"/><circle cx="983.14" cy="2520.67" r="5.1"/><circle cx="989.47" cy="2517.01" r="5.1"/><circle cx="995.8" cy="2504.8" r="5.1"/><circle cx="1002.12" cy="2499.91" r="5.1"/><circle cx="1008.45" cy="2459.91" r="5.1"/><circle cx="1014.78" cy="2485.87" r="5.1"/><circle cx="1021.11" cy="2478.54" r="5.1"/></g>
<rect x="81.4" y="2356.1" width="949.2" height="183.2" fill="none" stroke="#000" stroke-width="2.9"/>
<text x="66.2" y="2546.9" font-size="22.4" text-anchor="end" fill="#000">0</text>
<text x="66.2" y="2485.83" font-size="22.4" text-anchor="end" fill="#000">1</text>
<text x="66.2" y="2424.77" font-size="22.4" text-anchor="end" fill="#000">2</text>
<text x="66.2" y="2363.7" font-size="22.4" text-anchor="end" fill="#000">3</text>
<text x="81.4" y="2572.9" font-size="22.4" text-anchor="middle" fill="#000">0</text>
<text x="239.6" y="2572.9" font-size="22.4" text-anchor="middle" fill="#000">5000</text>
<text x="397.8" y="2572.9" font-size="22.4" text-anchor="middle" fill="#000">10000</text>
<text x="556" y="2572.9" font-size="22.4" text-anchor="middle" fill="#000">15000</text>
<text x="714.2" y="2572.9" font-size="22.4" text-anchor="middle" fill="#000">20000</text>
<text x="872.4" y="2572.9" font-size="22.4" text-anchor="middle" fill="#000">25000</text>
<text x="1030.6" y="2572.9" font-size="22.4" text-anchor="middle" fill="#000">30000</text>
<path d="M80.2 2539.3h-6.4M80.2 2478.23h-6.4M80.2 2417.17h-6.4M80.2 2356.1h-6.4M81.4 2540.5v6.4M239.6 2540.5v6.4M397.8 2540.5v6.4M556 2540.5v6.4M714.2 2540.5v6.4M872.4 2540.5v6.4M1030.6 2540.5v6.4" stroke="#000" stroke-width="2" fill="none"/>
<text x="97.6" y="2386.1" font-size="22.6" text-anchor="start" fill="#000">E135</text>
<path d="M1085.8 2390.38H1099.09V2397.48H1085.8ZM1085.8 2397.64H1099.09V2404.75H1085.8ZM1085.8 2404.91H1099.09V2412.02H1085.8ZM1085.8 2412.18H1112.37V2419.29H1085.8ZM1085.8 2419.45H1099.09V2426.55H1085.8ZM1085.8 2426.71H1125.66V2433.82H1085.8ZM1085.8 2433.98H1165.51V2441.09H1085.8ZM1085.8 2441.25H1138.94V2448.35H1085.8ZM1085.8 2448.51H1192.09V2455.62H1085.8ZM1085.8 2455.78H1245.23V2462.89H1085.8ZM1085.8 2463.05H1245.23V2470.15H1085.8ZM1085.8 2470.31H1271.8V2477.42H1085.8ZM1085.8 2477.58H1324.94V2484.69H1085.8ZM1085.8 2484.85H1245.23V2491.95H1085.8ZM1085.8 2492.11H1351.51V2499.22H1085.8ZM1085.8 2499.38H1258.51V2506.49H1085.8ZM1085.8 2506.65H1231.94V2513.76H1085.8ZM1085.8 2513.92H1152.23V2521.02H1085.8ZM1085.8 2521.18H1112.37V2528.29H1085.8ZM1085.8 2528.45H1125.66V2535.56H1085.8Z" fill="#3f7cb4"/>
<rect x="1085.8" y="2356.1" width="279" height="183.2" fill="none" stroke="#000" stroke-width="2.9"/>
<text transform="translate(27.8 2220.5) rotate(-90)" font-size="31.1" text-anchor="middle" fill="#000">Normalized depth</text>
<text x="559.8" y="2603.4" font-size="30.8" text-anchor="middle" fill="#000">Genome site (bp)</text>
</g>
<g>
<path d="M1563.62 2450.1V1978M1630.14 2450.1V1978M1696.67 2450.1V1978M1763.19 2450.1V1978M1829.71 2450.1V1978M1896.23 2450.1V1978M1962.76 2450.1V1978M2029.28 2450.1V1978M1497.1 2355.68H2095.8M1497.1 2261.26H2095.8M1497.1 2166.84H2095.8M1497.1 2072.42H2095.8" stroke="#dedede" stroke-width="1.4" stroke-dasharray="11.8 11.2" fill="none"/>
<path d="M1497.1 2450.1v-6.6M1497.1 1978v6.6M1563.62 2450.1v-6.6M1563.62 1978v6.6M1630.14 2450.1v-6.6M1630.14 1978v6.6M1696.67 2450.1v-6.6M1696.67 1978v6.6M1763.19 2450.1v-6.6M1763.19 1978v6.6M1829.71 2450.1v-6.6M1829.71 1978v6.6M1896.23 2450.1v-6.6M1896.23 1978v6.6M1962.76 2450.1v-6.6M1962.76 1978v6.6M2029.28 2450.1v-6.6M2029.28 1978v6.6M2095.8 2450.1v-6.6M2095.8 1978v6.6M1497.1 2450.1h6M1497.1 2355.68h6M1497.1 2261.26h6M1497.1 2166.84h6M1497.1 2072.42h6M1497.1 1978h6M1497.1 2450.1V1978H2095.8M1497.1 2450.1H2095.8" stroke="#151515" stroke-width="1.9" fill="none"/>
<path d="M2095.8 2450.1h-6M2095.8 2355.68h-6M2095.8 2261.26h-6M2095.8 2166.84h-6M2095.8 2072.42h-6M2095.8 1978h-6M2095.8 2450.1V1978" stroke="#c95d24" stroke-width="1.7" fill="none"/>
<text x="1497.1" y="2476.9" font-size="22.3" text-anchor="middle" fill="#1c1c1c">0.1</text>
<text x="1563.62" y="2476.9" font-size="22.3" text-anchor="middle" fill="#1c1c1c">0.09</text>
<text x="1630.14" y="2476.9" font-size="22.3" text-anchor="middle" fill="#1c1c1c">0.08</text>
<text x="1696.67" y="2476.9" font-size="22.3" text-anchor="middle" fill="#1c1c1c">0.07</text>
<text x="1763.19" y="2476.9" font-size="22.3" text-anchor="middle" fill="#1c1c1c">0.06</text>
<text x="1829.71" y="2476.9" font-size="22.3" text-anchor="middle" fill="#1c1c1c">0.05</text>
<text x="1896.23" y="2476.9" font-size="22.3" text-anchor="middle" fill="#1c1c1c">0.04</text>
<text x="1962.76" y="2476.9" font-size="22.3" text-anchor="middle" fill="#1c1c1c">0.03</text>
<text x="2029.28" y="2476.9" font-size="22.3" text-anchor="middle" fill="#1c1c1c">0.02</text>
<text x="2095.8" y="2476.9" font-size="22.3" text-anchor="middle" fill="#1c1c1c">0.01</text>
<text x="1486.9" y="2456.5" font-size="22.3" text-anchor="end" fill="#1c1c1c">0</text>
<text x="2105.6" y="2456.5" font-size="22.3" text-anchor="start" fill="#c95d24">0</text>
<text x="1485.8" y="2362.08" font-size="22.3" text-anchor="end" fill="#1c1c1c">20</text>
<text x="2105.6" y="2362.08" font-size="22.3" text-anchor="start" fill="#c95d24">2</text>
<text x="1485.8" y="2267.66" font-size="22.3" text-anchor="end" fill="#1c1c1c">40</text>
<text x="2105.6" y="2267.66" font-size="22.3" text-anchor="start" fill="#c95d24">4</text>
<text x="1485.8" y="2173.24" font-size="22.3" text-anchor="end" fill="#1c1c1c">60</text>
<text x="2105.6" y="2173.24" font-size="22.3" text-anchor="start" fill="#c95d24">6</text>
<text x="1485.8" y="2078.82" font-size="22.3" text-anchor="end" fill="#1c1c1c">80</text>
<text x="2105.6" y="2078.82" font-size="22.3" text-anchor="start" fill="#c95d24">8</text>
<text x="1490.7" y="1982.4" font-size="22.3" text-anchor="end" fill="#1c1c1c">100</text>
<text x="2105.6" y="1982.4" font-size="22.3" text-anchor="start" fill="#c95d24">10</text>
<text x="1796.45" y="2508.2" font-size="30.6" text-anchor="middle" fill="#1c1c1c">c.v.</text>
<text transform="translate(1442.5 2208.55) rotate(-90)" font-size="30.6" text-anchor="middle" fill="#1c1c1c">Legal reads percentage (%)</text>
<text transform="translate(2157.5 2208.05) rotate(-90)" font-size="30.6" text-anchor="middle" fill="#c95d24">False negative percentage (%)</text>
<clipPath id="fclip"><rect x="1496.2" y="1977.1" width="600.5" height="473.9"/></clipPath>
<g clip-path="url(#fclip)">
<polyline points="1497.1,2450.1 1563.62,2450.1 1630.14,2449.16 1696.67,2447.27 1763.19,2435.46 1829.71,2390.14 1896.23,2277.78 1962.76,2116.33 2029.28,2003.49 2095.8,1978.47" fill="none" stroke="#2a70aa" stroke-width="1.7" stroke-dasharray="12.6 9.2"/>
<g fill="#fff" stroke="#2a70aa" stroke-width="1.6"><circle cx="1497.1" cy="2450.1" r="4.4"/><circle cx="1563.62" cy="2450.1" r="4.4"/><circle cx="1630.14" cy="2449.16" r="4.4"/><circle cx="1696.67" cy="2447.27" r="4.4"/><circle cx="1763.19" cy="2435.46" r="4.4"/><circle cx="1829.71" cy="2390.14" r="4.4"/><circle cx="1896.23" cy="2277.78" r="4.4"/><circle cx="1962.76" cy="2116.33" r="4.4"/><circle cx="2029.28" cy="2003.49" r="4.4"/><circle cx="2095.8" cy="1978.47" r="4.4"/></g>
<polyline points="1497.1,2449.16 1563.62,2446.04 1630.14,2434.71 1696.67,2401.24 1763.19,2329.24 1829.71,2215.47 1896.23,2093.19 1962.76,2010.1 2029.28,1980.83 2095.8,1978.47" fill="none" stroke="#2a70aa" stroke-width="1.7"/>
<g fill="#fff" stroke="#2a70aa" stroke-width="1.6"><circle cx="1497.1" cy="2449.16" r="4.4"/><circle cx="1563.62" cy="2446.04" r="4.4"/><circle cx="1630.14" cy="2434.71" r="4.4"/><circle cx="1696.67" cy="2401.24" r="4.4"/><circle cx="1763.19" cy="2329.24" r="4.4"/><circle cx="1829.71" cy="2215.47" r="4.4"/><circle cx="1896.23" cy="2093.19" r="4.4"/><circle cx="1962.76" cy="2010.1" r="4.4"/><circle cx="2029.28" cy="1980.83" r="4.4"/><circle cx="2095.8" cy="1978.47" r="4.4"/></g>
<polyline points="1497.1,2112.08 1563.62,2312.72 1630.14,2334.44 1696.67,2397.7 1763.19,2431.22 1829.71,2444.67 1896.23,2448.68 1962.76,2450.1 2029.28,2450.1 2095.8,2450.1" fill="none" stroke="#c95d24" stroke-width="1.7" stroke-dasharray="12.6 9.2"/>
<g fill="#fff" stroke="#c95d24" stroke-width="1.6"><circle cx="1497.1" cy="2112.08" r="4.4"/><circle cx="1563.62" cy="2312.72" r="4.4"/><circle cx="1630.14" cy="2334.44" r="4.4"/><circle cx="1696.67" cy="2397.7" r="4.4"/><circle cx="1763.19" cy="2431.22" r="4.4"/><circle cx="1829.71" cy="2444.67" r="4.4"/><circle cx="1896.23" cy="2448.68" r="4.4"/></g>
<polyline points="1497.1,2337.27 1563.62,2381.17 1630.14,2417.53 1696.67,2434.99 1763.19,2444.2 1829.71,2447.74 1896.23,2449.63 1962.76,2450.1 2029.28,2450.1 2095.8,2450.1" fill="none" stroke="#c95d24" stroke-width="1.7"/>
<g fill="#fff" stroke="#c95d24" stroke-width="1.6"><circle cx="1497.1" cy="2337.27" r="4.4"/><circle cx="1563.62" cy="2381.17" r="4.4"/><circle cx="1630.14" cy="2417.53" r="4.4"/><circle cx="1696.67" cy="2434.99" r="4.4"/><circle cx="1763.19" cy="2444.2" r="4.4"/><circle cx="1829.71" cy="2447.74" r="4.4"/><circle cx="1896.23" cy="2449.63" r="4.4"/></g>
</g>
<rect x="1510.7" y="1991.6" width="315.7" height="72.8" fill="#fff" stroke="#262626" stroke-width="1.5"/>
<path d="M1521.7 2010.2H1532.2M1544.5 2010.2H1551M1567.2 2010.2H1578.7" stroke="#2a70aa" stroke-width="1.7" fill="none"/>
<path d="M1596.2 2010.2H1660.4" stroke="#2a70aa" stroke-width="1.7" fill="none"/>
<g fill="#fff" stroke="#2a70aa" stroke-width="1.6"><circle cx="1554.1" cy="2010.2" r="4.4"/><circle cx="1627.9" cy="2010.2" r="4.4"/></g>
<text x="1679.6" y="2016.1" font-size="23.1" text-anchor="start" fill="#0a0a0a">BitSeq</text>
<path d="M1521.7 2046H1532.2M1544.5 2046H1551M1567.2 2046H1578.7" stroke="#c95d24" stroke-width="1.7" fill="none"/>
<path d="M1596.2 2046H1660.4" stroke="#c95d24" stroke-width="1.7" fill="none"/>
<g fill="#fff" stroke="#c95d24" stroke-width="1.6"><circle cx="1554.1" cy="2046" r="4.4"/><circle cx="1627.9" cy="2046" r="4.4"/></g>
<text x="1679.6" y="2051.9" font-size="23.1" text-anchor="start" fill="#0a0a0a">SuperBitSeq</text>
</g>
</svg>
</body></html>
